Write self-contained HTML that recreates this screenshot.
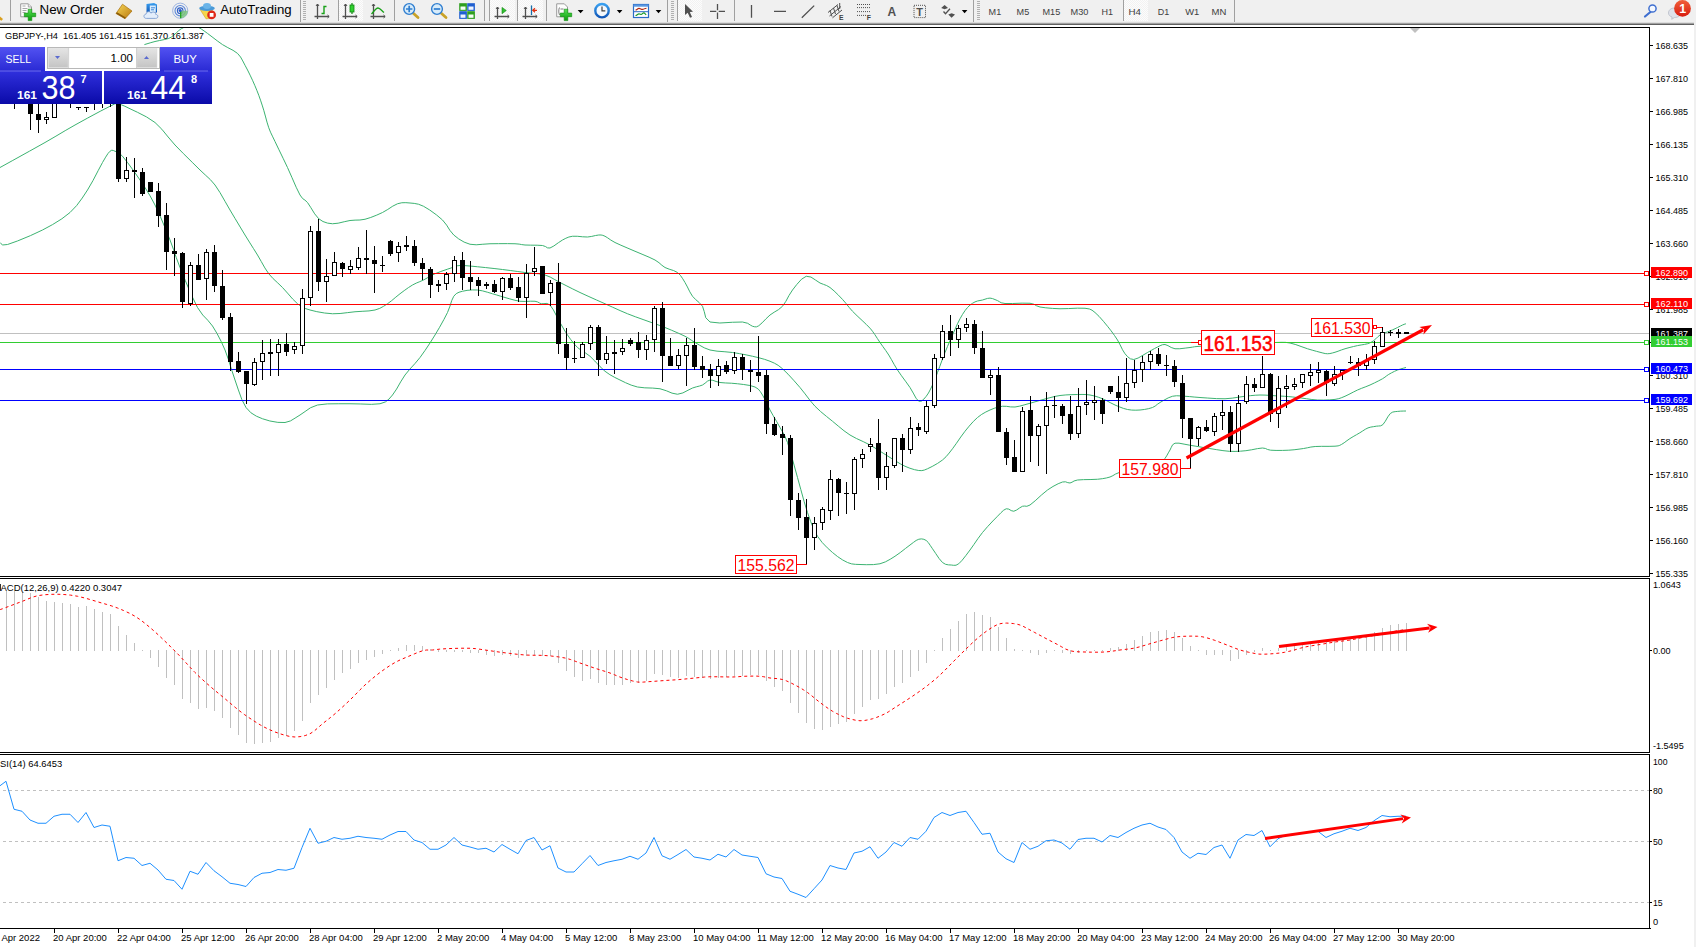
<!DOCTYPE html>
<html><head><meta charset="utf-8"><title>GBPJPY H4</title>
<style>
html,body{margin:0;padding:0;background:#fff;}
body{width:1696px;height:947px;overflow:hidden;position:relative;font-family:"Liberation Sans",sans-serif;}
#tb{position:absolute;left:0;top:0;width:1696px;height:25px;background:#f0f0f0;}
#tb .l0{position:absolute;left:0;top:22px;width:1694px;height:1px;background:#dcdcdc;}
#tb .l1{position:absolute;left:0;top:23px;width:1694px;height:1px;background:#a0a0a0;}
#tb .l2{position:absolute;left:0;top:24px;width:1694px;height:1px;background:#606060;}
#rs{position:absolute;left:1694px;top:0;width:2px;height:947px;background:#f0f0f0;}
</style></head><body>
<div id="tb"><div class="l0"></div><div class="l1"></div><div class="l2"></div>
<svg width="1696" height="25" viewBox="0 0 1696 25" style="position:absolute;left:0;top:0" font-family="Liberation Sans, sans-serif">
<defs>
<linearGradient id="tgold" x1="0" y1="0" x2="1" y2="1"><stop offset="0" stop-color="#f7d858"/><stop offset="1" stop-color="#b9780e"/></linearGradient>
<linearGradient id="tgreen" x1="0" y1="0" x2="0" y2="1"><stop offset="0" stop-color="#55e055"/><stop offset="1" stop-color="#0a9a0a"/></linearGradient>
<linearGradient id="tblue" x1="0" y1="0" x2="0" y2="1"><stop offset="0" stop-color="#3aa0f0"/><stop offset="1" stop-color="#1057b8"/></linearGradient>
<linearGradient id="tred" x1="0" y1="0" x2="0" y2="1"><stop offset="0" stop-color="#f0603a"/><stop offset="1" stop-color="#d81c10"/></linearGradient>
<pattern id="chk" width="2" height="2" patternUnits="userSpaceOnUse"><rect width="2" height="2" fill="#fcfcfc"/><rect width="1" height="1" fill="#f2f2f2"/><rect x="1" y="1" width="1" height="1" fill="#f2f2f2"/></pattern>
</defs>
<!-- pressed backgrounds -->
<g shape-rendering="crispEdges">
<rect x="338" y="0" width="25" height="21" fill="url(#chk)"/><rect x="338" y="0" width="1" height="21" fill="#a0a0a0"/>
<rect x="490" y="0" width="25" height="21" fill="url(#chk)"/><rect x="489" y="0" width="1" height="21" fill="#a0a0a0"/>
<rect x="518" y="0" width="25" height="21" fill="url(#chk)"/><rect x="517" y="0" width="1" height="21" fill="#a0a0a0"/>
<rect x="678" y="0" width="24" height="21" fill="url(#chk)"/><rect x="677" y="0" width="1" height="21" fill="#a0a0a0"/>
<rect x="1124" y="0" width="24" height="21" fill="url(#chk)"/><rect x="1123" y="0" width="1" height="21" fill="#a0a0a0"/>
<!-- separators -->
<rect x="10" y="0" width="1" height="21" fill="#a0a0a0"/>
<rect x="300" y="0" width="1" height="22" fill="#a0a0a0"/>
<rect x="394" y="0" width="1" height="21" fill="#a0a0a0"/>
<rect x="484" y="0" width="1" height="21" fill="#a0a0a0"/>
<rect x="546" y="0" width="1" height="21" fill="#a0a0a0"/>
<rect x="667" y="0" width="1" height="22" fill="#a0a0a0"/>
<rect x="734" y="0" width="1" height="21" fill="#a0a0a0"/>
<rect x="973" y="0" width="1" height="22" fill="#a0a0a0"/>
<rect x="1234" y="0" width="1" height="22" fill="#a0a0a0"/>
<!-- grippers -->
<g fill="#b0b0b0">
<path d="M303 1h3v1h-3zM303 3h3v1h-3zM303 5h3v1h-3zM303 7h3v1h-3zM303 9h3v1h-3zM303 11h3v1h-3zM303 13h3v1h-3zM303 15h3v1h-3zM303 17h3v1h-3zM303 19h3v1h-3z"/>
<path d="M671 1h3v1h-3zM671 3h3v1h-3zM671 5h3v1h-3zM671 7h3v1h-3zM671 9h3v1h-3zM671 11h3v1h-3zM671 13h3v1h-3zM671 15h3v1h-3zM671 17h3v1h-3zM671 19h3v1h-3z"/>
<path d="M977 1h3v1h-3zM977 3h3v1h-3zM977 5h3v1h-3zM977 7h3v1h-3zM977 9h3v1h-3zM977 11h3v1h-3zM977 13h3v1h-3zM977 15h3v1h-3zM977 17h3v1h-3zM977 19h3v1h-3z"/>
</g>
</g>
<!-- left partial icon -->
<polygon points="0,16.500 3,19 1.500,20.800 0,20" fill="#d9a021"/>
<!-- New Order icon -->
<path d="M20.700 3.800h7.600l3.200 3.200v9.800h-10.800z" fill="#fdfdfd" stroke="#9a9a9a" stroke-width="1"/>
<path d="M28.300 3.800v3.200h3.200" fill="#e8e8e8" stroke="#9a9a9a" stroke-width="0.800"/>
<path d="M22.500 6h3M22.500 8.500h5M22.500 10.500h4M22.500 12.500h3" stroke="#a8a8a8" stroke-width="1"/>
<path d="M28.200 9.200h3.600v3.900h3.900v3.600h-3.900v3.900h-3.600v-3.900h-3.900v-3.600h3.900z" fill="url(#tgreen)" stroke="#0c8a0c" stroke-width="0.600"/>
<text x="39.500" y="14" font-size="13.300" fill="#000" textLength="64.500" lengthAdjust="spacingAndGlyphs">New Order</text>
<!-- gold book -->
<polygon points="122.500,4.200 132,11 125,18.700 116,13.500" fill="url(#tgold)" stroke="#a8700c" stroke-width="0.700"/>
<polygon points="116,13.500 125,18.700 125.800,17.600 117,12.300" fill="#8a5a08"/>
<!-- server + cloud -->
<path d="M146.500 4l7.500 -1 3 1.600v8h-10.500z" fill="url(#tblue)"/>
<path d="M149.800 5.500h6v6.500h-6z" fill="#d8ecfc"/>
<path d="M151 7.800h4M151 9.800h3" stroke="#2a7ad8" stroke-width="0.900"/>
<path d="M146.300 18.400c-3 0-3.200-4 -0.200-4.300c0.300-2.800 4-3.300 5-0.900c1.200-2 4.800-1.200 4.600 1.200c2.800 0 3 4 0 4z" fill="#e4eefb" stroke="#7f9fd0" stroke-width="0.900"/>
<!-- signal -->
<circle cx="180.200" cy="10.700" r="7.600" fill="none" stroke="#9db4e0" stroke-width="1"/>
<circle cx="180.200" cy="10.700" r="5.200" fill="none" stroke="#5a86d8" stroke-width="1.100"/>
<circle cx="180.200" cy="10.700" r="2.800" fill="none" stroke="#3060c8" stroke-width="1.100"/>
<path d="M180.200 10.700L187.800 10.700A7.600 7.600 0 0 1 180.200 18.300z" fill="#7cc47c" opacity="0.850"/>
<path d="M180.700 10.700v7.600" stroke="#18a018" stroke-width="1.200"/>
<circle cx="180.200" cy="10.400" r="1.500" fill="#2858c8"/>
<!-- AutoTrading icon -->
<path d="M200 9.300l10.500 0l4 3l-4.500 6.200l-4 0.300z" fill="#f5d64a" stroke="#d0a020" stroke-width="0.600"/>
<ellipse cx="207" cy="8.300" rx="7.800" ry="2.600" fill="#4a9ad8"/>
<ellipse cx="207" cy="6" rx="4" ry="3" fill="#6ab4e8"/>
<circle cx="211.600" cy="14.900" r="4.400" fill="#e02818"/>
<rect x="209.700" y="13" width="3.800" height="3.800" fill="#fff"/>
<text x="220.200" y="14" font-size="13.300" fill="#000" textLength="71.500" lengthAdjust="spacingAndGlyphs">AutoTrading</text>
<!-- chart type icons -->
<g stroke="#505050" stroke-width="1.300" fill="none">
<path d="M317.500 4v15M314.500 16.500h14.500"/><path d="M316 6l1.500-2l1.500 2M327.500 15l1.700 1.500l-1.700 1.500" stroke-width="1"/>
<path d="M345.500 4v15M342.500 16.500h14.500"/><path d="M344 6l1.500-2l1.500 2M355.500 15l1.700 1.500l-1.700 1.500" stroke-width="1"/>
<path d="M373.500 4v15M370.500 16.500h14.500"/><path d="M372 6l1.500-2l1.500 2M383.500 15l1.700 1.500l-1.700 1.500" stroke-width="1"/>
<path d="M497.500 7v12M494.500 16.500h14.500"/><path d="M496 9l1.500-2l1.500 2M507.500 15l1.700 1.500l-1.700 1.500" stroke-width="1"/>
<path d="M525.500 7v12M522.500 16.500h14.500"/><path d="M524 9l1.500-2l1.500 2M535.500 15l1.700 1.500l-1.700 1.500" stroke-width="1"/>
</g>
<path d="M321.500 13.500h2.500v-7h2.500" stroke="#18a018" stroke-width="1.400" fill="none"/>
<path d="M352 3v11" stroke="#108810" stroke-width="1.200"/><rect x="350" y="5" width="4" height="7" fill="#30d030" stroke="#108810" stroke-width="0.800"/>
<path d="M371.500 14c2.500-3 4.500-6 6.500-6s3.500 2.500 6 4.500" stroke="#18a018" stroke-width="1.300" fill="none"/>
<polygon points="502,7.400 506.300,10.500 502,13.700" fill="#30c030" stroke="#108810" stroke-width="0.600"/>
<path d="M531.500 5.400v9.600" stroke="#1a6ea8" stroke-width="1.300"/><path d="M537 10.300h-4M535 8.300l-2.300 2l2.300 2" stroke="#e03010" stroke-width="1.200" fill="none"/>
<!-- zoom in/out -->
<path d="M413 13l5 4.500" stroke="#c9a227" stroke-width="2.800" stroke-linecap="round"/>
<circle cx="409.200" cy="9" r="5.400" fill="#d8ecfa" stroke="#2f7ed0" stroke-width="1.400"/>
<path d="M406 9h6.400M409.200 5.800v6.400" stroke="#2f7ed0" stroke-width="1.700"/>
<path d="M441 13l5 4.500" stroke="#c9a227" stroke-width="2.800" stroke-linecap="round"/>
<circle cx="437" cy="9" r="5.400" fill="#d8ecfa" stroke="#2f7ed0" stroke-width="1.400"/>
<path d="M433.800 9h6.400" stroke="#2f7ed0" stroke-width="1.700"/>
<!-- tile -->
<rect x="459.200" y="3.200" width="7.700" height="7.700" fill="#2e9e1e"/><rect x="467.200" y="3.200" width="7.700" height="7.700" fill="#1f5fd0"/>
<rect x="459.200" y="11.200" width="7.700" height="7.700" fill="#1f5fd0"/><rect x="467.200" y="11.200" width="7.700" height="7.700" fill="#2e9e1e"/>
<rect x="460.500" y="6.500" width="5" height="3.300" fill="#f4fff4"/><rect x="468.500" y="6.500" width="5" height="3.300" fill="#eef4ff"/>
<rect x="460.500" y="14.500" width="5" height="3.300" fill="#eef4ff"/><rect x="468.500" y="14.500" width="5" height="3.300" fill="#f4fff4"/>
<!-- indicators icon -->
<path d="M556.700 3.800h7.600l3.200 3.200v9.800h-10.800z" fill="#fdfdfd" stroke="#9a9a9a" stroke-width="1"/>
<path d="M559.500 7.500c-1 2-1 5 0 7.500M560.500 9h3" stroke="#707070" stroke-width="0.900" fill="none"/>
<path d="M564.200 9.200h3.600v3.900h3.900v3.600h-3.900v3.900h-3.600v-3.900h-3.900v-3.600h3.900z" fill="url(#tgreen)" stroke="#0c8a0c" stroke-width="0.600"/>
<polygon points="577.700,10 583.500,10 580.600,13.200" fill="#000"/>
<!-- clock -->
<circle cx="602" cy="10.700" r="6.700" fill="#f4f8fc" stroke="url(#tblue)" stroke-width="2.400"/>
<path d="M602 6.500v4.400h3.300" stroke="#404040" stroke-width="1.200" fill="none"/>
<polygon points="616.800,10 622.400,10 619.600,13.200" fill="#000"/>
<!-- template -->
<rect x="633.500" y="4.500" width="15" height="13" fill="#fff" stroke="#2a6cc8" stroke-width="1.200"/>
<rect x="633.500" y="4.500" width="15" height="2.200" fill="#5a98e0"/>
<path d="M633.500 11.700h15" stroke="#2a6cc8" stroke-width="1"/>
<path d="M635.500 10c1.500 0 2-1.600 3.500-1.600s2 1 3.500 1s2-1.200 4-1.200" stroke="#b02810" stroke-width="1.100" fill="none"/>
<path d="M635.500 15.500c1.500 0 2-1.600 3.500-1.600s2 1.200 3.200 0s2-1.500 3 0l1 1" stroke="#18982a" stroke-width="1.100" fill="none"/>
<polygon points="655.700,10 661.300,10 658.500,13.200" fill="#000"/>
<!-- cursor -->
<polygon points="685,4 685,15 687.700,12.800 690,17.800 692,16.900 689.800,12 693,11.700" fill="#505050"/>
<!-- crosshair -->
<path d="M710 11.400h6.300M718.700 11.400h6.300M717.500 4v6.200M717.500 12.600v6.400" stroke="#505050" stroke-width="1.300"/>
<!-- line tools -->
<path d="M751.500 5v12.800M774 11.400h12M801.800 17.800L814.200 5.600" stroke="#505050" stroke-width="1.300"/>
<g stroke="#505050" stroke-width="1" fill="none">
<path d="M828 12.500L838 4.500M829.500 16L841 6.500M832.500 17.800L842 10"/><path d="M830 10.500l2 6M833.500 8l2 6M837 5.500l2 6M839.700 3v6"/>
</g>
<text x="839" y="19.800" font-size="6.800" font-weight="bold" fill="#404040">E</text>
<path d="M857 4.500h13.500M857 7.600h13.500M857 11.600h13.500M857 15.400h9.500" stroke="#505050" stroke-width="1" stroke-dasharray="1,1"/>
<text x="866.800" y="19.800" font-size="6.800" font-weight="bold" fill="#404040">F</text>
<text x="887.500" y="15.800" font-size="12" font-weight="bold" fill="#505050">A</text>
<rect x="914" y="5.300" width="11.500" height="12.300" fill="none" stroke="#505050" stroke-width="1" stroke-dasharray="1,1"/>
<text x="916.300" y="15.700" font-size="11" font-weight="bold" fill="#505050">T</text>
<polygon points="944.600,5 948,8 944.600,9.200 941.200,8" fill="#505050"/>
<polygon points="951.600,17.800 955,14.600 951.600,13.300 948.300,14.600" fill="#505050"/>
<path d="M943.500 11.500l2 2.300l4.500-5" stroke="#505050" stroke-width="1.300" fill="none"/>
<polygon points="961.800,10 967.400,10 964.600,13.200" fill="#000"/>
<!-- timeframes -->
<g font-size="9.500" fill="#404040">
<text x="988.600" y="15" textLength="12.600" lengthAdjust="spacingAndGlyphs">M1</text>
<text x="1016.600" y="15" textLength="12.600" lengthAdjust="spacingAndGlyphs">M5</text>
<text x="1042.500" y="15" textLength="17.700" lengthAdjust="spacingAndGlyphs">M15</text>
<text x="1070.500" y="15" textLength="17.900" lengthAdjust="spacingAndGlyphs">M30</text>
<text x="1101.600" y="15" textLength="11.500" lengthAdjust="spacingAndGlyphs">H1</text>
<text x="1128.500" y="15" textLength="12.400" lengthAdjust="spacingAndGlyphs">H4</text>
<text x="1157.700" y="15" textLength="11.500" lengthAdjust="spacingAndGlyphs">D1</text>
<text x="1185.200" y="15" textLength="14.100" lengthAdjust="spacingAndGlyphs">W1</text>
<text x="1211.500" y="15" textLength="14.800" lengthAdjust="spacingAndGlyphs">MN</text>
</g>
<!-- search -->
<path d="M1651 11.500l-6 5" stroke="#3f6fd0" stroke-width="2.200" stroke-linecap="round"/>
<circle cx="1652.500" cy="8.500" r="3.600" fill="#f4f8ff" stroke="#3f6fd0" stroke-width="1.500"/>
<!-- chat -->
<path d="M1668.500 13c0-3 2.500-5 6-5s6 2 6 5s-2.500 4.500-6 4.500l-2.800 1.800l0.400-2.300c-2.200-0.600-3.600-2-3.600-4z" fill="#dfe2ea" stroke="#b8bcc8" stroke-width="0.800"/>
<circle cx="1682.500" cy="8.400" r="8.400" fill="url(#tred)"/>
<text x="1679.300" y="13.200" font-size="12.500" font-weight="bold" fill="#fff">1</text>
</svg>

</div>
<svg id="chart" width="1696" height="947" viewBox="0 0 1696 947" style="position:absolute;left:0;top:0">
<defs><clipPath id="cm"><rect x="0" y="28" width="1649" height="548"/></clipPath><clipPath id="cs"><rect x="0" y="579" width="1649" height="173"/></clipPath><clipPath id="cr"><rect x="0" y="755" width="1649" height="173"/></clipPath><linearGradient id="gb" x1="0" y1="0" x2="0" y2="1"><stop offset="0" stop-color="#5252f2"/><stop offset="1" stop-color="#2a2ad4"/></linearGradient><linearGradient id="gp" x1="0" y1="0" x2="0" y2="1"><stop offset="0" stop-color="#3030dd"/><stop offset="1" stop-color="#0a0aa8"/></linearGradient><linearGradient id="gg" x1="0" y1="0" x2="0" y2="1"><stop offset="0" stop-color="#e4e4e4"/><stop offset="1" stop-color="#c4c4c4"/></linearGradient></defs>
<g shape-rendering="crispEdges">
<rect x="0" y="333" width="1649" height="1" fill="#c0c0c0"/>
</g>
<g clip-path="url(#cm)">
<polyline points="144.4,44.6 147.03,43.8 150.84,42.65 155,41.5 159.63,40.51 164.61,39.53 168.75,38.4 171.44,37.03 173.29,35.51 175,34 176.76,32.47 178.38,30.93 180,29.6 181.59,28.58 183.19,27.76 185,27 187.19,26.12 189.61,25.31 192,25 194.19,25.37 196.36,26.25 198.75,27.5 201.29,29.02 204.05,30.91 207.5,33.4 212.04,36.83 217.27,40.85 222.5,44.6 227.78,47.6 233.06,50.33 237.5,53.4 240.56,57.01 242.78,60.95 245,65.25 247.55,70.02 250.09,75.13 252.5,80.25 254.72,85.25 256.81,90.25 258.75,95.25 260.51,100.16 262.13,105.06 263.75,110.25 265.37,116.04 266.99,122.1 268.75,127.75 270.51,132.16 272.41,136.15 275,141.5 278.7,149.2 283.1,158.27 287.5,167.5 291.85,177.3 296.2,187.26 300,195 302.73,198.66 304.91,200.09 307.5,202.5 310.88,207.69 314.68,213.84 318.75,218.75 323.01,221.56 327.55,223.11 332.5,223.75 338.15,223.2 344.21,221.74 350,220.5 355.09,220.14 359.91,220 365,219.25 370.74,217.48 376.76,215.1 382.5,212.5 387.78,209.44 392.78,206.15 397.5,203.75 401.81,202.76 405.85,202.66 410,203 414.22,203.4 418.56,204.24 423.5,206.25 429.71,210.01 436.54,214.94 442.5,220 446.64,225.12 449.92,230.38 453.75,235 458.66,238.87 464.12,242.1 470,244.25 476.2,244.79 482.82,244.24 490,243.75 498.52,243.67 507.59,243.64 515,243.75 519.17,244.1 521.67,244.59 525,245 530.65,245.15 537.13,245.21 542.5,245.5 545.56,246.57 547.5,247.87 550,248 553.89,245.95 558.33,242.74 562.5,240 565.83,238.27 568.89,237.01 572.5,236.25 577.27,236.27 582.59,236.79 587.5,237 591.71,236.42 595.51,235.53 598.75,235 601.06,234.99 602.82,235.34 605,236.25 607.69,237.87 610.79,240.05 615,242.5 620.93,245.23 627.96,248.24 635,251.25 642.04,254.21 649.07,257.18 655,260 658.98,262.69 661.85,265.23 665,267.5 669.17,269.17 673.61,270.56 677.5,272.5 680.37,275.32 682.69,278.7 685,282.5 687.41,286.94 689.81,291.81 692.5,296.25 695.74,299.65 699.26,302.63 702.5,306.25 704.26,311.66 705.74,317.7 710,322 719.81,323.01 732.41,322.27 742.5,322 747.64,323.28 750.28,325.03 752.5,326.25 754.68,326.81 756.44,326.85 758.75,325.75 762.08,322.85 765.97,318.81 770,315 774.17,312.21 778.47,309.65 782.5,306.25 785.88,301.3 788.98,295.51 792.5,290 796.81,284.47 801.53,279.22 806.25,276.25 810.97,277.06 815.69,280.16 820,283 823.52,284.39 826.62,285.54 830,287.5 834.07,290.92 838.43,295.16 842.5,299.4 845.88,303.31 848.98,307.21 852.5,311.25 857.08,315.77 862.08,320.44 866.25,324.4 868.84,326.99 870.6,328.87 872.5,331.25 874.86,334.63 877.36,338.49 880,342.5 882.82,346.48 885.79,350.6 888.75,355 891.53,359.72 894.31,364.72 897.5,370 901.53,375.79 905.97,381.85 910,387.5 913.24,393.06 916.06,398.19 918.75,401.25 921.39,401.2 923.89,399.07 926.25,396.25 928.47,393.01 930.56,389.07 932.5,385 934.17,381.2 935.69,377.27 937.5,372.5 939.81,366.3 942.41,359.26 945,352.5 947.5,346.44 950,340.65 952.5,335 955,329.31 957.5,323.75 960,318.75 962.5,314.42 965,310.65 967.5,307.5 970,305.08 972.5,303.28 975,301.9 977.5,300.99 980,300.5 982.5,300 985,299.2 987.5,298.41 990,298.1 992.5,298.59 995,299.57 997.5,300.6 999.35,301.65 1001.2,302.75 1005,303.5 1012.59,303.5 1022.13,303.15 1030,303.25 1034.07,304.28 1036.48,305.75 1040,307 1045.74,307.81 1052.59,308.41 1060,308.75 1068.52,308.57 1077.59,308.15 1085,308.25 1089.35,308.96 1092.04,310.2 1095,312.5 1099.07,316.38 1103.43,321.31 1107.5,326.25 1111.11,330.83 1114.44,335.42 1117.5,340 1120.14,344.88 1122.5,349.76 1125,353.75 1127.64,356.73 1130.42,358.82 1133.75,359.5 1138.1,358.06 1143.01,355.19 1147.5,352.5 1151.2,350.44 1154.49,348.56 1157.5,347 1160.09,345.69 1162.41,344.72 1165,344.5 1167.96,345.62 1171.2,347.49 1175,348.75 1179.81,348.74 1185.19,348.12 1190,347.5 1192.59,347.12 1194.63,346.74 1200,346.25 1211.3,345.55 1225.93,344.73 1240,344 1252.78,343.37 1265,342.82 1275,342.5 1281.39,342.32 1285.56,342.37 1290,343 1295.83,344.61 1301.94,346.81 1307.5,348.75 1312.22,350.16 1316.39,351.31 1320,352.25 1322.87,353.01 1325.19,353.55 1327.5,353.75 1329.91,353.55 1332.31,353.01 1335,352.25 1338.06,351.22 1341.39,349.96 1345,348.75 1349.07,347.63 1353.43,346.54 1357.5,345.6 1361.16,344.94 1364.54,344.41 1367.5,343.75 1369.86,342.89 1371.81,341.88 1373.75,340.6 1375.79,338.82 1377.82,336.77 1380,335 1382.41,333.78 1384.95,332.84 1387.5,331.9 1390,330.88 1392.5,329.85 1395,328.75 1397.65,327.45 1400.3,326.09 1402.5,325 1404.09,324.35 1405.24,323.98 1406,323.75" fill="none" stroke="#3cb371" stroke-width="1" />
<polyline points="0,167.5 12.22,160.74 29.44,151.2 45,142.5 55.93,136.16 65.19,130.65 75,125 87.3,118.23 100.15,111.32 110,106.25 114.52,104.02 116.04,103.62 118,104 121.22,104.73 124.89,106.24 130,108.75 137.56,112.34 146.56,116.94 155,122.5 161.85,129.26 168.15,136.99 175,145 183.33,153.52 192.22,162.31 200,170 205.74,175.37 210.37,179.63 215,185 220,192.59 225,201.3 230,210 235.09,218.52 240.19,227.04 245,235 249.4,242.08 253.52,248.61 257.5,255 261.25,261.53 264.86,267.92 268.75,273.75 273.1,278.61 277.73,282.92 282.5,287.5 287.5,293.1 292.64,298.98 297.5,303.75 301.48,306.67 305.19,308.47 310,310 316.76,311.65 324.63,313.02 332.5,313.75 340.09,313.5 347.69,312.61 355,311.75 362.13,311.31 368.98,310.91 375,310 379.72,308.39 383.61,306.28 387.5,303.75 391.67,300.65 395.83,297.13 400,293.75 404.22,290.6 408.44,287.59 412.5,285 416.26,283.1 419.85,281.62 423.5,280 427.07,278.01 430.7,275.88 435,273.75 440.76,271.51 447.19,269.27 452.5,267.5 455.37,266.4 457.13,265.77 460,265.5 464.81,265.62 470.74,266.1 477.5,266.75 485.37,267.55 494.07,268.51 502.5,269.5 510.28,270.5 517.78,271.53 525,272.5 532.04,273.19 538.8,273.81 545,275 550.19,277.04 554.81,279.63 560,282.5 566.11,285.6 572.78,288.98 580,292.5 588.06,296.2 596.67,300.05 605,303.75 612.69,307.24 620.09,310.59 627.5,313.75 635.28,316.73 643.06,319.52 650,322 655.37,323.92 659.91,325.53 665,327.5 671.67,330.27 678.89,333.4 685,336.25 688.89,338.47 691.67,340.42 695,342.5 699.35,345.09 704.26,347.82 710,350 717.04,351.16 724.91,351.76 732.5,352.5 739.44,353.61 746.11,354.86 752.5,356.25 758.7,357.73 764.63,359.35 770,361.25 774.35,363.15 778.15,365.32 782.5,368.75 788.06,374.17 794.17,380.83 800,387.5 805.09,393.89 809.91,400.28 815,406.25 820.65,411.57 826.57,416.48 832.5,421.25 838.24,426.06 843.98,430.74 850,435 856.48,438.52 863.24,441.62 870,445 876.85,449.12 883.7,453.52 890,457.5 895.42,460.86 900.28,463.81 905,466.25 909.86,468.22 914.58,469.69 918.75,470.5 921.81,470.62 924.31,470.07 927.5,468.75 932.22,466.44 937.64,463.36 942.5,460 946.11,456.67 949.17,453.06 952.5,448.75 956.48,443.24 960.74,437.04 965,431.25 969.17,426.16 973.33,421.48 977.5,417.5 981.67,414.4 985.83,411.99 990,410 994.17,408.31 998.33,407.03 1002.5,406.25 1006.57,406.33 1010.65,406.92 1015,407 1019.81,406.1 1024.91,404.7 1030,403.25 1035,401.84 1040,400.38 1045,399 1049.91,397.69 1054.81,396.45 1060,395.5 1065.83,394.93 1071.94,394.63 1077.5,394.5 1082.04,394.44 1086.02,394.54 1090,395 1094.17,395.92 1098.33,397.19 1102.5,398.75 1106.67,400.71 1110.83,402.95 1115,405 1119.17,406.78 1123.33,408.36 1127.5,409.5 1131.67,410.07 1135.83,410.2 1140,410 1144.35,409.48 1148.7,408.63 1152.5,407.5 1155.19,406.06 1157.31,404.35 1160,402.5 1163.8,400.28 1168.15,397.92 1172.5,396.25 1176.57,395.74 1180.65,395.93 1185,396.25 1189.44,396.57 1194.17,397.04 1200,397.5 1207.78,398.06 1216.67,398.61 1225,398.75 1232.22,398.15 1238.89,397.13 1245,396.25 1250.37,395.67 1255.19,395.22 1260,395 1265.05,395.1 1270.09,395.42 1275,395.75 1279.72,396.01 1284.31,396.27 1288.75,396.6 1292.87,397 1296.85,397.47 1301.25,398 1306.34,398.72 1311.85,399.5 1317.5,400 1323.52,400.09 1329.68,399.89 1335,399.4 1338.8,398.65 1341.76,397.62 1345,396.25 1348.98,394.35 1353.24,392.11 1357.5,390 1361.67,388.29 1365.83,386.71 1370,385 1374.4,382.94 1378.8,380.74 1382.5,378.75 1384.95,377.16 1386.71,375.78 1388.75,374.4 1391.49,372.87 1394.51,371.33 1397.5,370 1400.67,368.93 1403.81,368.08 1406,367.5" fill="none" stroke="#3cb371" stroke-width="1" />
<polyline points="0,242.5 0.93,243.63 2.69,244.98 7.5,244.5 17.41,241 30.37,235.67 42.5,230 52.59,224.57 61.85,218.81 70,212.5 76.67,205.56 82.22,198.06 87.5,190 92.96,180.6 98.15,170.65 102.5,162.5 105.65,157.13 107.96,153.56 110,151.25 111.76,150.23 113.24,150.46 115,151.25 116.94,151.85 119.17,153.01 122.5,156.25 127.69,162.73 133.98,171.3 140,180 145.19,187.87 150.09,195.88 155,205 160.19,216.2 165.37,228.52 170,240 173.43,249.26 176.3,257.69 180,267.5 185.37,280.7 191.57,295.3 197.5,307.5 202.78,315.06 207.78,320.22 212.5,326 216.94,333.37 221.11,341.35 225,350 228.48,359.65 231.69,369.96 235,380 238.39,389.95 241.89,399.63 246,407.5 250.87,412.73 256.35,416.16 262.5,418.75 269.83,420.97 277.83,422.36 285,422.5 290.46,420.93 295.09,418.1 300,415 305.09,411.53 310.46,407.78 317.5,405 327.31,403.89 338.8,403.75 350,403.75 360.83,403.98 371.39,404.35 380,403.75 385.46,401.9 388.98,399.07 392.5,395 396.57,389.07 400.65,381.9 405,375 409.81,369.17 414.91,363.61 420,357.5 425.09,350.37 430.19,342.69 435,335 439.58,327.27 443.89,319.54 447.5,312.5 449.95,306.2 451.71,300.6 453.75,296.25 456.25,293.61 459.03,292.22 462.5,291.25 467.04,290.37 472.27,289.91 477.5,290 482.59,290.88 487.69,292.31 492.5,293.75 496.76,295 500.74,296.25 505,297.5 509.81,298.89 514.91,300.28 520,301.25 525.32,301.44 530.65,301.2 535,301.25 537.64,301.94 539.31,302.92 541.25,303.75 543.94,303.66 546.9,303.43 550,305 553.33,309.81 556.81,316.44 560,322.5 562.59,327.04 564.91,331.02 567.5,335 570.56,339.31 573.89,343.61 577.5,347.5 581.39,350.46 585.56,353.01 590,356.25 594.81,361.02 599.91,366.48 605,371.25 609.91,374.69 614.81,377.44 620,380 625.46,382.66 631.2,385.12 637.5,387 644.81,387.83 652.69,388.08 660,388.75 666.3,390.74 672.04,393.15 677.5,394.25 682.87,392.92 687.96,390.28 692.5,388 696.3,386.83 699.54,386.03 702.5,385 705.09,383.2 707.41,381.19 710,380 712.87,380.32 716.02,381.48 720,382.5 725.28,382.94 731.39,383.23 737.5,383.75 743.7,384.51 749.91,385.49 755,387 758.24,389.06 760.37,391.64 762.5,395 764.91,399.39 767.31,404.56 770,410 773.24,415.74 776.76,421.76 780,427.5 782.59,431.94 784.91,436.11 787.5,442.5 790.65,452.69 794.07,465.09 797.5,477.5 800.83,489.58 804.17,501.67 807.5,512.5 810.65,521.53 813.8,529.31 817.5,536.25 822.13,542.45 827.31,547.82 832.5,552.5 837.59,556.59 842.69,559.99 847.5,562.5 851.57,563.86 855.37,564.33 860,564.5 866.3,564.7 873.43,564.6 880,563.75 885.37,561.89 890.19,559.28 895,556.25 900.23,552.57 905.46,548.48 910,545 913.43,542.42 916.16,540.44 918.75,539.25 921.39,538.89 923.89,539.31 926.25,540.5 928.29,542.53 930.19,545.33 932.5,548.75 935.6,553.34 939.12,558.55 942.5,562.5 945.56,564.31 948.47,564.86 951.25,565 953.7,565.32 956.02,565.23 958.75,563.75 962.18,560.23 966.02,555.32 970,550 973.98,544.4 978.1,538.38 982.5,532.5 987.55,526.67 992.87,520.97 997.5,516.25 1000.93,512.73 1003.66,510.19 1006.25,508.75 1008.8,509.12 1011.2,510.6 1013.75,511.25 1016.62,510 1019.63,507.92 1022.5,506.25 1024.72,506.06 1026.81,506.3 1030,505 1035.19,500.76 1041.48,494.99 1047.5,490 1052.96,486.48 1058.15,483.74 1062.5,482 1065.56,481.81 1067.78,482.63 1070,483 1072.04,482.21 1074.07,480.98 1077.5,480 1083.52,479.64 1090.93,479.53 1097.5,479.25 1102.34,478.69 1106.35,477.97 1110,477 1112.9,475.67 1115.44,474.08 1119.25,472.5 1125.34,471.06 1132.71,469.61 1140,468 1147.28,466.02 1154.47,463.88 1160,462 1162.78,460.8 1163.89,459.87 1165,458.4 1166.67,455.9 1168.33,452.86 1170,450 1171.31,447.29 1172.61,444.76 1175,443.2 1178.99,443.17 1184.06,444.11 1189.7,445.2 1195.92,446.22 1202.71,447.39 1209.5,448.5 1216.22,449.6 1222.94,450.64 1229.3,451.3 1235.07,451.43 1240.49,451.18 1245.9,450.7 1251.71,449.77 1257.52,448.61 1262.4,448 1265.38,448.45 1267.43,449.45 1270.6,450.2 1276.05,450.43 1282.61,450.41 1288.8,450.2 1294.1,449.77 1299.03,449.15 1303.6,448.5 1307.4,447.79 1310.84,447.05 1315.2,446.5 1321.68,446.33 1329.07,446.35 1335,446.2 1338.11,445.86 1339.76,445.35 1341.6,444.4 1344.18,442.76 1346.95,440.68 1349.9,438.6 1353.14,436.63 1356.57,434.67 1359.8,432.8 1362.66,430.98 1365.32,429.26 1368,427.9 1370.82,427.09 1373.66,426.64 1376.3,426.2 1378.6,426.01 1380.7,425.83 1382.9,424.6 1385.31,421.27 1387.8,416.89 1390.3,413.5 1392.73,412.07 1395.17,411.64 1397.7,411.4 1400.71,411.13 1403.81,411.04 1406,411" fill="none" stroke="#3cb371" stroke-width="1" />
</g>
<g shape-rendering="crispEdges">
<rect x="0" y="273" width="1649" height="1" fill="#ff0000"/>
<rect x="0" y="304" width="1649" height="1" fill="#ff0000"/>
<rect x="0" y="342" width="1649" height="1" fill="#32cd32"/>
<rect x="0" y="369" width="1649" height="1" fill="#0000ff"/>
<rect x="0" y="400" width="1649" height="1" fill="#0000ff"/>
<rect x="14" y="100" width="1" height="9" fill="#000"/>
<rect x="12" y="100" width="5" height="4" fill="#000"/>
<rect x="30" y="100" width="1" height="30" fill="#000"/>
<rect x="28" y="100" width="5" height="14" fill="#000"/>
<rect x="38" y="100" width="1" height="33" fill="#000"/>
<rect x="36" y="114" width="5" height="6" fill="#000"/>
<rect x="46" y="112" width="1" height="12" fill="#000"/>
<rect x="44" y="117" width="5" height="3" fill="#000"/>
<rect x="45" y="118" width="3" height="1" fill="#fff"/>
<rect x="54" y="100" width="1" height="18" fill="#000"/>
<rect x="52" y="100" width="5" height="18" fill="#000"/>
<rect x="53" y="101" width="3" height="16" fill="#fff"/>
<rect x="70" y="100" width="1" height="8" fill="#000"/>
<rect x="68" y="100" width="5" height="4" fill="#000"/>
<rect x="78" y="107" width="1" height="3" fill="#000"/>
<rect x="76" y="107" width="5" height="1" fill="#000"/>
<rect x="86" y="107" width="1" height="5" fill="#000"/>
<rect x="84" y="107" width="5" height="1" fill="#000"/>
<rect x="94" y="100" width="1" height="10" fill="#000"/>
<rect x="92" y="100" width="5" height="4" fill="#000"/>
<rect x="102" y="100" width="1" height="8" fill="#000"/>
<rect x="100" y="100" width="5" height="4" fill="#000"/>
<rect x="110" y="100" width="1" height="7" fill="#000"/>
<rect x="108" y="100" width="5" height="4" fill="#000"/>
<rect x="118" y="100" width="1" height="82" fill="#000"/>
<rect x="116" y="100" width="5" height="79" fill="#000"/>
<rect x="126" y="157" width="1" height="25" fill="#000"/>
<rect x="124" y="170" width="5" height="9" fill="#000"/>
<rect x="125" y="171" width="3" height="7" fill="#fff"/>
<rect x="134" y="158" width="1" height="40" fill="#000"/>
<rect x="132" y="170" width="5" height="2" fill="#000"/>
<rect x="142" y="168" width="1" height="28" fill="#000"/>
<rect x="140" y="172" width="5" height="22" fill="#000"/>
<rect x="150" y="182" width="1" height="10" fill="#000"/>
<rect x="148" y="182" width="5" height="10" fill="#000"/>
<rect x="158" y="183" width="1" height="44" fill="#000"/>
<rect x="156" y="191" width="5" height="25" fill="#000"/>
<rect x="166" y="203" width="1" height="67" fill="#000"/>
<rect x="164" y="215" width="5" height="37" fill="#000"/>
<rect x="174" y="238" width="1" height="38" fill="#000"/>
<rect x="172" y="251" width="5" height="3" fill="#000"/>
<rect x="182" y="252" width="1" height="56" fill="#000"/>
<rect x="180" y="253" width="5" height="49" fill="#000"/>
<rect x="190" y="262" width="1" height="44" fill="#000"/>
<rect x="188" y="265" width="5" height="39" fill="#000"/>
<rect x="189" y="266" width="3" height="37" fill="#fff"/>
<rect x="198" y="254" width="1" height="26" fill="#000"/>
<rect x="196" y="265" width="5" height="15" fill="#000"/>
<rect x="206" y="249" width="1" height="51" fill="#000"/>
<rect x="204" y="252" width="5" height="27" fill="#000"/>
<rect x="205" y="253" width="3" height="25" fill="#fff"/>
<rect x="214" y="245" width="1" height="47" fill="#000"/>
<rect x="212" y="252" width="5" height="34" fill="#000"/>
<rect x="222" y="270" width="1" height="50" fill="#000"/>
<rect x="220" y="286" width="5" height="32" fill="#000"/>
<rect x="230" y="313" width="1" height="58" fill="#000"/>
<rect x="228" y="317" width="5" height="45" fill="#000"/>
<rect x="238" y="352" width="1" height="21" fill="#000"/>
<rect x="236" y="361" width="5" height="11" fill="#000"/>
<rect x="246" y="371" width="1" height="33" fill="#000"/>
<rect x="244" y="371" width="5" height="13" fill="#000"/>
<rect x="254" y="358" width="1" height="28" fill="#000"/>
<rect x="252" y="362" width="5" height="23" fill="#000"/>
<rect x="253" y="363" width="3" height="21" fill="#fff"/>
<rect x="262" y="340" width="1" height="40" fill="#000"/>
<rect x="260" y="353" width="5" height="9" fill="#000"/>
<rect x="261" y="354" width="3" height="7" fill="#fff"/>
<rect x="270" y="339" width="1" height="37" fill="#000"/>
<rect x="268" y="352" width="5" height="2" fill="#000"/>
<rect x="278" y="339" width="1" height="37" fill="#000"/>
<rect x="276" y="344" width="5" height="9" fill="#000"/>
<rect x="277" y="345" width="3" height="7" fill="#fff"/>
<rect x="286" y="333" width="1" height="23" fill="#000"/>
<rect x="284" y="344" width="5" height="8" fill="#000"/>
<rect x="294" y="342" width="1" height="12" fill="#000"/>
<rect x="292" y="346" width="5" height="4" fill="#000"/>
<rect x="293" y="347" width="3" height="2" fill="#fff"/>
<rect x="302" y="289" width="1" height="65" fill="#000"/>
<rect x="300" y="298" width="5" height="48" fill="#000"/>
<rect x="301" y="299" width="3" height="46" fill="#fff"/>
<rect x="310" y="226" width="1" height="80" fill="#000"/>
<rect x="308" y="231" width="5" height="67" fill="#000"/>
<rect x="309" y="232" width="3" height="65" fill="#fff"/>
<rect x="318" y="219" width="1" height="72" fill="#000"/>
<rect x="316" y="231" width="5" height="51" fill="#000"/>
<rect x="326" y="259" width="1" height="43" fill="#000"/>
<rect x="324" y="276" width="5" height="6" fill="#000"/>
<rect x="325" y="277" width="3" height="4" fill="#fff"/>
<rect x="334" y="252" width="1" height="24" fill="#000"/>
<rect x="332" y="262" width="5" height="14" fill="#000"/>
<rect x="333" y="263" width="3" height="12" fill="#fff"/>
<rect x="342" y="262" width="1" height="15" fill="#000"/>
<rect x="340" y="263" width="5" height="6" fill="#000"/>
<rect x="350" y="260" width="1" height="14" fill="#000"/>
<rect x="348" y="266" width="5" height="4" fill="#000"/>
<rect x="349" y="267" width="3" height="2" fill="#fff"/>
<rect x="358" y="247" width="1" height="23" fill="#000"/>
<rect x="356" y="258" width="5" height="10" fill="#000"/>
<rect x="357" y="259" width="3" height="8" fill="#fff"/>
<rect x="366" y="230" width="1" height="44" fill="#000"/>
<rect x="364" y="258" width="5" height="2" fill="#000"/>
<rect x="374" y="246" width="1" height="47" fill="#000"/>
<rect x="372" y="260" width="5" height="4" fill="#000"/>
<rect x="382" y="256" width="1" height="16" fill="#000"/>
<rect x="380" y="265" width="5" height="1" fill="#000"/>
<rect x="390" y="240" width="1" height="16" fill="#000"/>
<rect x="388" y="241" width="5" height="13" fill="#000"/>
<rect x="398" y="242" width="1" height="20" fill="#000"/>
<rect x="396" y="246" width="5" height="7" fill="#000"/>
<rect x="397" y="247" width="3" height="5" fill="#fff"/>
<rect x="406" y="236" width="1" height="15" fill="#000"/>
<rect x="404" y="245" width="5" height="2" fill="#000"/>
<rect x="414" y="240" width="1" height="26" fill="#000"/>
<rect x="412" y="246" width="5" height="17" fill="#000"/>
<rect x="422" y="258" width="1" height="22" fill="#000"/>
<rect x="420" y="263" width="5" height="6" fill="#000"/>
<rect x="430" y="267" width="1" height="31" fill="#000"/>
<rect x="428" y="269" width="5" height="16" fill="#000"/>
<rect x="438" y="280" width="1" height="12" fill="#000"/>
<rect x="436" y="284" width="5" height="2" fill="#000"/>
<rect x="446" y="272" width="1" height="18" fill="#000"/>
<rect x="444" y="274" width="5" height="10" fill="#000"/>
<rect x="445" y="275" width="3" height="8" fill="#fff"/>
<rect x="454" y="256" width="1" height="26" fill="#000"/>
<rect x="452" y="260" width="5" height="14" fill="#000"/>
<rect x="453" y="261" width="3" height="12" fill="#fff"/>
<rect x="462" y="252" width="1" height="38" fill="#000"/>
<rect x="460" y="260" width="5" height="18" fill="#000"/>
<rect x="470" y="261" width="1" height="29" fill="#000"/>
<rect x="468" y="277" width="5" height="5" fill="#000"/>
<rect x="478" y="277" width="1" height="19" fill="#000"/>
<rect x="476" y="280" width="5" height="6" fill="#000"/>
<rect x="486" y="282" width="1" height="7" fill="#000"/>
<rect x="484" y="284" width="5" height="2" fill="#000"/>
<rect x="494" y="280" width="1" height="13" fill="#000"/>
<rect x="492" y="284" width="5" height="8" fill="#000"/>
<rect x="502" y="277" width="1" height="23" fill="#000"/>
<rect x="500" y="278" width="5" height="14" fill="#000"/>
<rect x="501" y="279" width="3" height="12" fill="#fff"/>
<rect x="510" y="274" width="1" height="16" fill="#000"/>
<rect x="508" y="278" width="5" height="10" fill="#000"/>
<rect x="518" y="277" width="1" height="25" fill="#000"/>
<rect x="516" y="287" width="5" height="11" fill="#000"/>
<rect x="526" y="264" width="1" height="54" fill="#000"/>
<rect x="524" y="273" width="5" height="25" fill="#000"/>
<rect x="525" y="274" width="3" height="23" fill="#fff"/>
<rect x="534" y="247" width="1" height="29" fill="#000"/>
<rect x="532" y="268" width="5" height="4" fill="#000"/>
<rect x="533" y="269" width="3" height="2" fill="#fff"/>
<rect x="542" y="266" width="1" height="28" fill="#000"/>
<rect x="540" y="266" width="5" height="28" fill="#000"/>
<rect x="550" y="280" width="1" height="26" fill="#000"/>
<rect x="548" y="283" width="5" height="10" fill="#000"/>
<rect x="549" y="284" width="3" height="8" fill="#fff"/>
<rect x="558" y="263" width="1" height="91" fill="#000"/>
<rect x="556" y="282" width="5" height="62" fill="#000"/>
<rect x="566" y="328" width="1" height="42" fill="#000"/>
<rect x="564" y="344" width="5" height="14" fill="#000"/>
<rect x="574" y="341" width="1" height="22" fill="#000"/>
<rect x="572" y="358" width="5" height="1" fill="#000"/>
<rect x="582" y="342" width="1" height="16" fill="#000"/>
<rect x="580" y="344" width="5" height="14" fill="#000"/>
<rect x="581" y="345" width="3" height="12" fill="#fff"/>
<rect x="590" y="325" width="1" height="25" fill="#000"/>
<rect x="588" y="327" width="5" height="17" fill="#000"/>
<rect x="589" y="328" width="3" height="15" fill="#fff"/>
<rect x="598" y="325" width="1" height="51" fill="#000"/>
<rect x="596" y="327" width="5" height="33" fill="#000"/>
<rect x="606" y="336" width="1" height="28" fill="#000"/>
<rect x="604" y="353" width="5" height="7" fill="#000"/>
<rect x="605" y="354" width="3" height="5" fill="#fff"/>
<rect x="614" y="340" width="1" height="34" fill="#000"/>
<rect x="612" y="352" width="5" height="2" fill="#000"/>
<rect x="622" y="339" width="1" height="16" fill="#000"/>
<rect x="620" y="348" width="5" height="4" fill="#000"/>
<rect x="621" y="349" width="3" height="2" fill="#fff"/>
<rect x="630" y="338" width="1" height="8" fill="#000"/>
<rect x="628" y="340" width="5" height="4" fill="#000"/>
<rect x="638" y="332" width="1" height="26" fill="#000"/>
<rect x="636" y="342" width="5" height="8" fill="#000"/>
<rect x="646" y="335" width="1" height="25" fill="#000"/>
<rect x="644" y="340" width="5" height="10" fill="#000"/>
<rect x="645" y="341" width="3" height="8" fill="#fff"/>
<rect x="654" y="306" width="1" height="46" fill="#000"/>
<rect x="652" y="308" width="5" height="32" fill="#000"/>
<rect x="653" y="309" width="3" height="30" fill="#fff"/>
<rect x="662" y="302" width="1" height="80" fill="#000"/>
<rect x="660" y="308" width="5" height="48" fill="#000"/>
<rect x="670" y="338" width="1" height="28" fill="#000"/>
<rect x="668" y="356" width="5" height="10" fill="#000"/>
<rect x="678" y="349" width="1" height="20" fill="#000"/>
<rect x="676" y="355" width="5" height="11" fill="#000"/>
<rect x="677" y="356" width="3" height="9" fill="#fff"/>
<rect x="686" y="338" width="1" height="48" fill="#000"/>
<rect x="684" y="345" width="5" height="11" fill="#000"/>
<rect x="685" y="346" width="3" height="9" fill="#fff"/>
<rect x="694" y="328" width="1" height="42" fill="#000"/>
<rect x="692" y="345" width="5" height="22" fill="#000"/>
<rect x="702" y="356" width="1" height="22" fill="#000"/>
<rect x="700" y="366" width="5" height="4" fill="#000"/>
<rect x="710" y="364" width="1" height="24" fill="#000"/>
<rect x="708" y="369" width="5" height="7" fill="#000"/>
<rect x="718" y="359" width="1" height="27" fill="#000"/>
<rect x="716" y="366" width="5" height="10" fill="#000"/>
<rect x="717" y="367" width="3" height="8" fill="#fff"/>
<rect x="726" y="361" width="1" height="13" fill="#000"/>
<rect x="724" y="365" width="5" height="7" fill="#000"/>
<rect x="734" y="352" width="1" height="22" fill="#000"/>
<rect x="732" y="357" width="5" height="14" fill="#000"/>
<rect x="733" y="358" width="3" height="12" fill="#fff"/>
<rect x="742" y="354" width="1" height="26" fill="#000"/>
<rect x="740" y="357" width="5" height="13" fill="#000"/>
<rect x="750" y="360" width="1" height="32" fill="#000"/>
<rect x="748" y="370" width="5" height="2" fill="#000"/>
<rect x="758" y="336" width="1" height="46" fill="#000"/>
<rect x="756" y="372" width="5" height="4" fill="#000"/>
<rect x="766" y="370" width="1" height="64" fill="#000"/>
<rect x="764" y="375" width="5" height="49" fill="#000"/>
<rect x="774" y="417" width="1" height="19" fill="#000"/>
<rect x="772" y="424" width="5" height="11" fill="#000"/>
<rect x="782" y="426" width="1" height="29" fill="#000"/>
<rect x="780" y="434" width="5" height="4" fill="#000"/>
<rect x="790" y="435" width="1" height="81" fill="#000"/>
<rect x="788" y="438" width="5" height="62" fill="#000"/>
<rect x="798" y="493" width="1" height="37" fill="#000"/>
<rect x="796" y="500" width="5" height="18" fill="#000"/>
<rect x="806" y="499" width="1" height="65" fill="#000"/>
<rect x="804" y="517" width="5" height="21" fill="#000"/>
<rect x="814" y="517" width="1" height="33" fill="#000"/>
<rect x="812" y="523" width="5" height="15" fill="#000"/>
<rect x="813" y="524" width="3" height="13" fill="#fff"/>
<rect x="822" y="507" width="1" height="23" fill="#000"/>
<rect x="820" y="509" width="5" height="14" fill="#000"/>
<rect x="821" y="510" width="3" height="12" fill="#fff"/>
<rect x="830" y="470" width="1" height="50" fill="#000"/>
<rect x="828" y="479" width="5" height="32" fill="#000"/>
<rect x="829" y="480" width="3" height="30" fill="#fff"/>
<rect x="838" y="478" width="1" height="38" fill="#000"/>
<rect x="836" y="479" width="5" height="14" fill="#000"/>
<rect x="846" y="482" width="1" height="32" fill="#000"/>
<rect x="844" y="493" width="5" height="1" fill="#000"/>
<rect x="854" y="457" width="1" height="53" fill="#000"/>
<rect x="852" y="459" width="5" height="35" fill="#000"/>
<rect x="853" y="460" width="3" height="33" fill="#fff"/>
<rect x="862" y="449" width="1" height="19" fill="#000"/>
<rect x="860" y="454" width="5" height="5" fill="#000"/>
<rect x="861" y="455" width="3" height="3" fill="#fff"/>
<rect x="870" y="438" width="1" height="14" fill="#000"/>
<rect x="868" y="444" width="5" height="3" fill="#000"/>
<rect x="869" y="445" width="3" height="1" fill="#fff"/>
<rect x="878" y="419" width="1" height="71" fill="#000"/>
<rect x="876" y="443" width="5" height="35" fill="#000"/>
<rect x="886" y="452" width="1" height="38" fill="#000"/>
<rect x="884" y="466" width="5" height="12" fill="#000"/>
<rect x="885" y="467" width="3" height="10" fill="#fff"/>
<rect x="894" y="438" width="1" height="30" fill="#000"/>
<rect x="892" y="438" width="5" height="28" fill="#000"/>
<rect x="893" y="439" width="3" height="26" fill="#fff"/>
<rect x="902" y="434" width="1" height="38" fill="#000"/>
<rect x="900" y="438" width="5" height="12" fill="#000"/>
<rect x="910" y="417" width="1" height="37" fill="#000"/>
<rect x="908" y="428" width="5" height="22" fill="#000"/>
<rect x="909" y="429" width="3" height="20" fill="#fff"/>
<rect x="918" y="423" width="1" height="13" fill="#000"/>
<rect x="916" y="427" width="5" height="3" fill="#000"/>
<rect x="926" y="401" width="1" height="33" fill="#000"/>
<rect x="924" y="406" width="5" height="26" fill="#000"/>
<rect x="925" y="407" width="3" height="24" fill="#fff"/>
<rect x="934" y="354" width="1" height="54" fill="#000"/>
<rect x="932" y="358" width="5" height="48" fill="#000"/>
<rect x="933" y="359" width="3" height="46" fill="#fff"/>
<rect x="942" y="325" width="1" height="35" fill="#000"/>
<rect x="940" y="331" width="5" height="27" fill="#000"/>
<rect x="941" y="332" width="3" height="25" fill="#fff"/>
<rect x="950" y="315" width="1" height="41" fill="#000"/>
<rect x="948" y="331" width="5" height="9" fill="#000"/>
<rect x="958" y="325" width="1" height="23" fill="#000"/>
<rect x="956" y="328" width="5" height="12" fill="#000"/>
<rect x="957" y="329" width="3" height="10" fill="#fff"/>
<rect x="966" y="318" width="1" height="14" fill="#000"/>
<rect x="964" y="324" width="5" height="4" fill="#000"/>
<rect x="965" y="325" width="3" height="2" fill="#fff"/>
<rect x="974" y="320" width="1" height="34" fill="#000"/>
<rect x="972" y="324" width="5" height="24" fill="#000"/>
<rect x="982" y="331" width="1" height="47" fill="#000"/>
<rect x="980" y="348" width="5" height="30" fill="#000"/>
<rect x="990" y="370" width="1" height="25" fill="#000"/>
<rect x="988" y="375" width="5" height="3" fill="#000"/>
<rect x="989" y="376" width="3" height="1" fill="#fff"/>
<rect x="998" y="367" width="1" height="65" fill="#000"/>
<rect x="996" y="375" width="5" height="57" fill="#000"/>
<rect x="1006" y="428" width="1" height="37" fill="#000"/>
<rect x="1004" y="432" width="5" height="26" fill="#000"/>
<rect x="1014" y="440" width="1" height="32" fill="#000"/>
<rect x="1012" y="457" width="5" height="15" fill="#000"/>
<rect x="1022" y="407" width="1" height="65" fill="#000"/>
<rect x="1020" y="411" width="5" height="61" fill="#000"/>
<rect x="1021" y="412" width="3" height="59" fill="#fff"/>
<rect x="1030" y="396" width="1" height="66" fill="#000"/>
<rect x="1028" y="410" width="5" height="26" fill="#000"/>
<rect x="1038" y="424" width="1" height="42" fill="#000"/>
<rect x="1036" y="426" width="5" height="10" fill="#000"/>
<rect x="1037" y="427" width="3" height="8" fill="#fff"/>
<rect x="1046" y="392" width="1" height="82" fill="#000"/>
<rect x="1044" y="406" width="5" height="20" fill="#000"/>
<rect x="1045" y="407" width="3" height="18" fill="#fff"/>
<rect x="1054" y="396" width="1" height="22" fill="#000"/>
<rect x="1052" y="405" width="5" height="1" fill="#000"/>
<rect x="1062" y="404" width="1" height="20" fill="#000"/>
<rect x="1060" y="406" width="5" height="10" fill="#000"/>
<rect x="1070" y="396" width="1" height="44" fill="#000"/>
<rect x="1068" y="414" width="5" height="20" fill="#000"/>
<rect x="1078" y="388" width="1" height="50" fill="#000"/>
<rect x="1076" y="406" width="5" height="28" fill="#000"/>
<rect x="1077" y="407" width="3" height="26" fill="#fff"/>
<rect x="1086" y="380" width="1" height="35" fill="#000"/>
<rect x="1084" y="402" width="5" height="3" fill="#000"/>
<rect x="1085" y="403" width="3" height="1" fill="#fff"/>
<rect x="1094" y="386" width="1" height="34" fill="#000"/>
<rect x="1092" y="400" width="5" height="3" fill="#000"/>
<rect x="1093" y="401" width="3" height="1" fill="#fff"/>
<rect x="1102" y="398" width="1" height="26" fill="#000"/>
<rect x="1100" y="400" width="5" height="14" fill="#000"/>
<rect x="1110" y="386" width="1" height="8" fill="#000"/>
<rect x="1108" y="386" width="5" height="6" fill="#000"/>
<rect x="1118" y="376" width="1" height="36" fill="#000"/>
<rect x="1116" y="392" width="5" height="6" fill="#000"/>
<rect x="1126" y="358" width="1" height="44" fill="#000"/>
<rect x="1124" y="383" width="5" height="15" fill="#000"/>
<rect x="1125" y="384" width="3" height="13" fill="#fff"/>
<rect x="1134" y="360" width="1" height="28" fill="#000"/>
<rect x="1132" y="370" width="5" height="13" fill="#000"/>
<rect x="1133" y="371" width="3" height="11" fill="#fff"/>
<rect x="1142" y="356" width="1" height="26" fill="#000"/>
<rect x="1140" y="362" width="5" height="8" fill="#000"/>
<rect x="1141" y="363" width="3" height="6" fill="#fff"/>
<rect x="1150" y="351" width="1" height="19" fill="#000"/>
<rect x="1148" y="354" width="5" height="8" fill="#000"/>
<rect x="1149" y="355" width="3" height="6" fill="#fff"/>
<rect x="1158" y="348" width="1" height="18" fill="#000"/>
<rect x="1156" y="354" width="5" height="10" fill="#000"/>
<rect x="1166" y="355" width="1" height="21" fill="#000"/>
<rect x="1164" y="365" width="5" height="1" fill="#000"/>
<rect x="1174" y="360" width="1" height="27" fill="#000"/>
<rect x="1172" y="366" width="5" height="16" fill="#000"/>
<rect x="1182" y="375" width="1" height="63" fill="#000"/>
<rect x="1180" y="383" width="5" height="36" fill="#000"/>
<rect x="1190" y="418" width="1" height="50" fill="#000"/>
<rect x="1188" y="418" width="5" height="21" fill="#000"/>
<rect x="1198" y="426" width="1" height="20" fill="#000"/>
<rect x="1196" y="427" width="5" height="12" fill="#000"/>
<rect x="1197" y="428" width="3" height="10" fill="#fff"/>
<rect x="1206" y="420" width="1" height="12" fill="#000"/>
<rect x="1204" y="427" width="5" height="4" fill="#000"/>
<rect x="1214" y="413" width="1" height="23" fill="#000"/>
<rect x="1212" y="416" width="5" height="16" fill="#000"/>
<rect x="1213" y="417" width="3" height="14" fill="#fff"/>
<rect x="1222" y="400" width="1" height="30" fill="#000"/>
<rect x="1220" y="412" width="5" height="4" fill="#000"/>
<rect x="1221" y="413" width="3" height="2" fill="#fff"/>
<rect x="1230" y="406" width="1" height="46" fill="#000"/>
<rect x="1228" y="412" width="5" height="32" fill="#000"/>
<rect x="1238" y="395" width="1" height="57" fill="#000"/>
<rect x="1236" y="403" width="5" height="41" fill="#000"/>
<rect x="1237" y="404" width="3" height="39" fill="#fff"/>
<rect x="1246" y="376" width="1" height="28" fill="#000"/>
<rect x="1244" y="384" width="5" height="18" fill="#000"/>
<rect x="1245" y="385" width="3" height="16" fill="#fff"/>
<rect x="1254" y="378" width="1" height="14" fill="#000"/>
<rect x="1252" y="384" width="5" height="4" fill="#000"/>
<rect x="1262" y="356" width="1" height="32" fill="#000"/>
<rect x="1260" y="374" width="5" height="14" fill="#000"/>
<rect x="1261" y="375" width="3" height="12" fill="#fff"/>
<rect x="1270" y="373" width="1" height="49" fill="#000"/>
<rect x="1268" y="374" width="5" height="40" fill="#000"/>
<rect x="1278" y="376" width="1" height="52" fill="#000"/>
<rect x="1276" y="388" width="5" height="26" fill="#000"/>
<rect x="1277" y="389" width="3" height="24" fill="#fff"/>
<rect x="1286" y="375" width="1" height="33" fill="#000"/>
<rect x="1284" y="386" width="5" height="3" fill="#000"/>
<rect x="1285" y="387" width="3" height="1" fill="#fff"/>
<rect x="1294" y="378" width="1" height="12" fill="#000"/>
<rect x="1292" y="384" width="5" height="3" fill="#000"/>
<rect x="1293" y="385" width="3" height="1" fill="#fff"/>
<rect x="1302" y="374" width="1" height="14" fill="#000"/>
<rect x="1300" y="374" width="5" height="9" fill="#000"/>
<rect x="1301" y="375" width="3" height="7" fill="#fff"/>
<rect x="1310" y="364" width="1" height="22" fill="#000"/>
<rect x="1308" y="372" width="5" height="4" fill="#000"/>
<rect x="1309" y="373" width="3" height="2" fill="#fff"/>
<rect x="1318" y="362" width="1" height="21" fill="#000"/>
<rect x="1316" y="370" width="5" height="3" fill="#000"/>
<rect x="1317" y="371" width="3" height="1" fill="#fff"/>
<rect x="1326" y="370" width="1" height="26" fill="#000"/>
<rect x="1324" y="371" width="5" height="12" fill="#000"/>
<rect x="1334" y="366" width="1" height="20" fill="#000"/>
<rect x="1332" y="374" width="5" height="10" fill="#000"/>
<rect x="1333" y="375" width="3" height="8" fill="#fff"/>
<rect x="1342" y="370" width="1" height="10" fill="#000"/>
<rect x="1340" y="370" width="5" height="4" fill="#000"/>
<rect x="1341" y="371" width="3" height="2" fill="#fff"/>
<rect x="1350" y="356" width="1" height="8" fill="#000"/>
<rect x="1348" y="362" width="5" height="1" fill="#000"/>
<rect x="1358" y="358" width="1" height="18" fill="#000"/>
<rect x="1356" y="362" width="5" height="4" fill="#000"/>
<rect x="1366" y="354" width="1" height="16" fill="#000"/>
<rect x="1364" y="360" width="5" height="6" fill="#000"/>
<rect x="1365" y="361" width="3" height="4" fill="#fff"/>
<rect x="1374" y="341" width="1" height="23" fill="#000"/>
<rect x="1372" y="346" width="5" height="14" fill="#000"/>
<rect x="1373" y="347" width="3" height="12" fill="#fff"/>
<rect x="1382" y="328" width="1" height="19" fill="#000"/>
<rect x="1380" y="332" width="5" height="15" fill="#000"/>
<rect x="1381" y="333" width="3" height="13" fill="#fff"/>
<rect x="1390" y="330" width="1" height="6" fill="#000"/>
<rect x="1388" y="332" width="5" height="1" fill="#000"/>
<rect x="1398" y="329" width="1" height="9" fill="#000"/>
<rect x="1396" y="332" width="5" height="2" fill="#000"/>
<rect x="1406" y="332" width="1" height="2" fill="#000"/>
<rect x="1404" y="332" width="5" height="2" fill="#000"/>
</g>
<line x1="1186.5" y1="458" x2="1423.21" y2="329.76" stroke="#ff0000" stroke-width="3.2"/>
<polygon points="1432,325 1423.5,334.5 1424.09,329.29 1419.4,326.94" fill="#ff0000"/>
<g font-family="Liberation Sans, sans-serif">
<rect x="735.5" y="555.5" width="61" height="18" fill="#fff" stroke="#ff0000" stroke-width="1" shape-rendering="crispEdges"/>
<text x="737.5" y="570.6" font-size="16.2" fill="#ff0000" text-anchor="start" font-weight="normal" textLength="57" lengthAdjust="spacingAndGlyphs" >155.562</text>
<rect x="797" y="564" width="10" height="1" fill="#ff0000" shape-rendering="crispEdges"/>
<rect x="1119.5" y="459.5" width="61" height="18" fill="#fff" stroke="#ff0000" stroke-width="1" shape-rendering="crispEdges"/>
<text x="1121.5" y="474.6" font-size="16.2" fill="#ff0000" text-anchor="start" font-weight="normal" textLength="57" lengthAdjust="spacingAndGlyphs" >157.980</text>
<rect x="1181" y="468" width="10" height="1" fill="#ff0000" shape-rendering="crispEdges"/>
<rect x="1201.5" y="330.5" width="73" height="24" fill="#fff" stroke="#ff0000" stroke-width="1" shape-rendering="crispEdges"/>
<text x="1203.5" y="350.5" font-size="21.5" fill="#ff0000" text-anchor="start" font-weight="normal" textLength="69" lengthAdjust="spacingAndGlyphs" stroke="#ff0000" stroke-width="0.5">161.153</text>
<rect x="1191" y="342" width="8" height="1" fill="#ff0000" shape-rendering="crispEdges"/>
<rect x="1198.5" y="340.5" width="3" height="4" fill="#fff" stroke="#ff0000" shape-rendering="crispEdges"/>
<rect x="1311.5" y="318.5" width="61" height="18" fill="#fff" stroke="#ff0000" stroke-width="1" shape-rendering="crispEdges"/>
<text x="1313.5" y="333.6" font-size="16.2" fill="#ff0000" text-anchor="start" font-weight="normal" textLength="57" lengthAdjust="spacingAndGlyphs" >161.530</text>
<rect x="1373.5" y="325.5" width="3" height="3" fill="#fff" stroke="#ff0000" shape-rendering="crispEdges"/>
<rect x="1376" y="327" width="7" height="1" fill="#ff0000" shape-rendering="crispEdges"/>
<rect x="1382" y="327" width="1" height="5" fill="#000" shape-rendering="crispEdges"/>
</g>
<g shape-rendering="crispEdges">
<rect x="6" y="591" width="1" height="60" fill="#c0c0c0"/>
<rect x="14" y="591" width="1" height="60" fill="#c0c0c0"/>
<rect x="22" y="592" width="1" height="59" fill="#c0c0c0"/>
<rect x="30" y="593" width="1" height="58" fill="#c0c0c0"/>
<rect x="38" y="597" width="1" height="54" fill="#c0c0c0"/>
<rect x="46" y="601" width="1" height="50" fill="#c0c0c0"/>
<rect x="54" y="602" width="1" height="49" fill="#c0c0c0"/>
<rect x="62" y="603" width="1" height="48" fill="#c0c0c0"/>
<rect x="70" y="604" width="1" height="47" fill="#c0c0c0"/>
<rect x="78" y="607" width="1" height="44" fill="#c0c0c0"/>
<rect x="86" y="606" width="1" height="45" fill="#c0c0c0"/>
<rect x="94" y="609" width="1" height="42" fill="#c0c0c0"/>
<rect x="102" y="612" width="1" height="39" fill="#c0c0c0"/>
<rect x="110" y="614" width="1" height="37" fill="#c0c0c0"/>
<rect x="118" y="626" width="1" height="25" fill="#c0c0c0"/>
<rect x="126" y="635" width="1" height="16" fill="#c0c0c0"/>
<rect x="134" y="643" width="1" height="8" fill="#c0c0c0"/>
<rect x="142" y="650" width="1" height="1" fill="#c0c0c0"/>
<rect x="150" y="650" width="1" height="8" fill="#c0c0c0"/>
<rect x="158" y="650" width="1" height="17" fill="#c0c0c0"/>
<rect x="166" y="650" width="1" height="28" fill="#c0c0c0"/>
<rect x="174" y="650" width="1" height="35" fill="#c0c0c0"/>
<rect x="182" y="650" width="1" height="49" fill="#c0c0c0"/>
<rect x="190" y="650" width="1" height="53" fill="#c0c0c0"/>
<rect x="198" y="650" width="1" height="59" fill="#c0c0c0"/>
<rect x="206" y="650" width="1" height="58" fill="#c0c0c0"/>
<rect x="214" y="650" width="1" height="61" fill="#c0c0c0"/>
<rect x="222" y="650" width="1" height="68" fill="#c0c0c0"/>
<rect x="230" y="650" width="1" height="78" fill="#c0c0c0"/>
<rect x="238" y="650" width="1" height="85" fill="#c0c0c0"/>
<rect x="246" y="650" width="1" height="93" fill="#c0c0c0"/>
<rect x="254" y="650" width="1" height="94" fill="#c0c0c0"/>
<rect x="262" y="650" width="1" height="93" fill="#c0c0c0"/>
<rect x="270" y="650" width="1" height="92" fill="#c0c0c0"/>
<rect x="278" y="650" width="1" height="88" fill="#c0c0c0"/>
<rect x="286" y="650" width="1" height="86" fill="#c0c0c0"/>
<rect x="294" y="650" width="1" height="81" fill="#c0c0c0"/>
<rect x="302" y="650" width="1" height="71" fill="#c0c0c0"/>
<rect x="310" y="650" width="1" height="53" fill="#c0c0c0"/>
<rect x="318" y="650" width="1" height="45" fill="#c0c0c0"/>
<rect x="326" y="650" width="1" height="38" fill="#c0c0c0"/>
<rect x="334" y="650" width="1" height="30" fill="#c0c0c0"/>
<rect x="342" y="650" width="1" height="23" fill="#c0c0c0"/>
<rect x="350" y="650" width="1" height="19" fill="#c0c0c0"/>
<rect x="358" y="650" width="1" height="13" fill="#c0c0c0"/>
<rect x="366" y="650" width="1" height="10" fill="#c0c0c0"/>
<rect x="374" y="650" width="1" height="7" fill="#c0c0c0"/>
<rect x="382" y="650" width="1" height="4" fill="#c0c0c0"/>
<rect x="390" y="650" width="1" height="1" fill="#c0c0c0"/>
<rect x="398" y="648" width="1" height="3" fill="#c0c0c0"/>
<rect x="406" y="645" width="1" height="6" fill="#c0c0c0"/>
<rect x="414" y="645" width="1" height="6" fill="#c0c0c0"/>
<rect x="422" y="646" width="1" height="5" fill="#c0c0c0"/>
<rect x="430" y="649" width="1" height="2" fill="#c0c0c0"/>
<rect x="438" y="650" width="1" height="2" fill="#c0c0c0"/>
<rect x="446" y="650" width="1" height="2" fill="#c0c0c0"/>
<rect x="454" y="650" width="1" height="2" fill="#c0c0c0"/>
<rect x="462" y="650" width="1" height="2" fill="#c0c0c0"/>
<rect x="470" y="650" width="1" height="3" fill="#c0c0c0"/>
<rect x="478" y="650" width="1" height="3" fill="#c0c0c0"/>
<rect x="486" y="650" width="1" height="5" fill="#c0c0c0"/>
<rect x="494" y="650" width="1" height="6" fill="#c0c0c0"/>
<rect x="502" y="650" width="1" height="5" fill="#c0c0c0"/>
<rect x="510" y="650" width="1" height="6" fill="#c0c0c0"/>
<rect x="518" y="650" width="1" height="8" fill="#c0c0c0"/>
<rect x="526" y="650" width="1" height="6" fill="#c0c0c0"/>
<rect x="534" y="650" width="1" height="5" fill="#c0c0c0"/>
<rect x="542" y="650" width="1" height="6" fill="#c0c0c0"/>
<rect x="550" y="650" width="1" height="6" fill="#c0c0c0"/>
<rect x="558" y="650" width="1" height="13" fill="#c0c0c0"/>
<rect x="566" y="650" width="1" height="21" fill="#c0c0c0"/>
<rect x="574" y="650" width="1" height="27" fill="#c0c0c0"/>
<rect x="582" y="650" width="1" height="31" fill="#c0c0c0"/>
<rect x="590" y="650" width="1" height="29" fill="#c0c0c0"/>
<rect x="598" y="650" width="1" height="33" fill="#c0c0c0"/>
<rect x="606" y="650" width="1" height="35" fill="#c0c0c0"/>
<rect x="614" y="650" width="1" height="35" fill="#c0c0c0"/>
<rect x="622" y="650" width="1" height="35" fill="#c0c0c0"/>
<rect x="630" y="650" width="1" height="33" fill="#c0c0c0"/>
<rect x="638" y="650" width="1" height="33" fill="#c0c0c0"/>
<rect x="646" y="650" width="1" height="31" fill="#c0c0c0"/>
<rect x="654" y="650" width="1" height="24" fill="#c0c0c0"/>
<rect x="662" y="650" width="1" height="25" fill="#c0c0c0"/>
<rect x="670" y="650" width="1" height="27" fill="#c0c0c0"/>
<rect x="678" y="650" width="1" height="28" fill="#c0c0c0"/>
<rect x="686" y="650" width="1" height="26" fill="#c0c0c0"/>
<rect x="694" y="650" width="1" height="27" fill="#c0c0c0"/>
<rect x="702" y="650" width="1" height="28" fill="#c0c0c0"/>
<rect x="710" y="650" width="1" height="29" fill="#c0c0c0"/>
<rect x="718" y="650" width="1" height="28" fill="#c0c0c0"/>
<rect x="726" y="650" width="1" height="27" fill="#c0c0c0"/>
<rect x="734" y="650" width="1" height="26" fill="#c0c0c0"/>
<rect x="742" y="650" width="1" height="26" fill="#c0c0c0"/>
<rect x="750" y="650" width="1" height="25" fill="#c0c0c0"/>
<rect x="758" y="650" width="1" height="25" fill="#c0c0c0"/>
<rect x="766" y="650" width="1" height="31" fill="#c0c0c0"/>
<rect x="774" y="650" width="1" height="37" fill="#c0c0c0"/>
<rect x="782" y="650" width="1" height="41" fill="#c0c0c0"/>
<rect x="790" y="650" width="1" height="53" fill="#c0c0c0"/>
<rect x="798" y="650" width="1" height="63" fill="#c0c0c0"/>
<rect x="806" y="650" width="1" height="73" fill="#c0c0c0"/>
<rect x="814" y="650" width="1" height="79" fill="#c0c0c0"/>
<rect x="822" y="650" width="1" height="80" fill="#c0c0c0"/>
<rect x="830" y="650" width="1" height="77" fill="#c0c0c0"/>
<rect x="838" y="650" width="1" height="74" fill="#c0c0c0"/>
<rect x="846" y="650" width="1" height="72" fill="#c0c0c0"/>
<rect x="854" y="650" width="1" height="64" fill="#c0c0c0"/>
<rect x="862" y="650" width="1" height="57" fill="#c0c0c0"/>
<rect x="870" y="650" width="1" height="50" fill="#c0c0c0"/>
<rect x="878" y="650" width="1" height="49" fill="#c0c0c0"/>
<rect x="886" y="650" width="1" height="44" fill="#c0c0c0"/>
<rect x="894" y="650" width="1" height="37" fill="#c0c0c0"/>
<rect x="902" y="650" width="1" height="33" fill="#c0c0c0"/>
<rect x="910" y="650" width="1" height="27" fill="#c0c0c0"/>
<rect x="918" y="650" width="1" height="21" fill="#c0c0c0"/>
<rect x="926" y="650" width="1" height="13" fill="#c0c0c0"/>
<rect x="934" y="650" width="1" height="1" fill="#c0c0c0"/>
<rect x="942" y="638" width="1" height="13" fill="#c0c0c0"/>
<rect x="950" y="629" width="1" height="22" fill="#c0c0c0"/>
<rect x="958" y="621" width="1" height="30" fill="#c0c0c0"/>
<rect x="966" y="614" width="1" height="37" fill="#c0c0c0"/>
<rect x="974" y="612" width="1" height="39" fill="#c0c0c0"/>
<rect x="982" y="615" width="1" height="36" fill="#c0c0c0"/>
<rect x="990" y="617" width="1" height="34" fill="#c0c0c0"/>
<rect x="998" y="627" width="1" height="24" fill="#c0c0c0"/>
<rect x="1006" y="638" width="1" height="13" fill="#c0c0c0"/>
<rect x="1014" y="649" width="1" height="2" fill="#c0c0c0"/>
<rect x="1022" y="650" width="1" height="1" fill="#c0c0c0"/>
<rect x="1030" y="650" width="1" height="3" fill="#c0c0c0"/>
<rect x="1038" y="650" width="1" height="5" fill="#c0c0c0"/>
<rect x="1046" y="650" width="1" height="3" fill="#c0c0c0"/>
<rect x="1054" y="650" width="1" height="1" fill="#c0c0c0"/>
<rect x="1062" y="650" width="1" height="3" fill="#c0c0c0"/>
<rect x="1070" y="650" width="1" height="4" fill="#c0c0c0"/>
<rect x="1078" y="650" width="1" height="3" fill="#c0c0c0"/>
<rect x="1086" y="650" width="1" height="1" fill="#c0c0c0"/>
<rect x="1094" y="650" width="1" height="1" fill="#c0c0c0"/>
<rect x="1102" y="650" width="1" height="1" fill="#c0c0c0"/>
<rect x="1110" y="648" width="1" height="3" fill="#c0c0c0"/>
<rect x="1118" y="647" width="1" height="4" fill="#c0c0c0"/>
<rect x="1126" y="644" width="1" height="7" fill="#c0c0c0"/>
<rect x="1134" y="640" width="1" height="11" fill="#c0c0c0"/>
<rect x="1142" y="636" width="1" height="15" fill="#c0c0c0"/>
<rect x="1150" y="632" width="1" height="19" fill="#c0c0c0"/>
<rect x="1158" y="631" width="1" height="20" fill="#c0c0c0"/>
<rect x="1166" y="630" width="1" height="21" fill="#c0c0c0"/>
<rect x="1174" y="632" width="1" height="19" fill="#c0c0c0"/>
<rect x="1182" y="638" width="1" height="13" fill="#c0c0c0"/>
<rect x="1190" y="646" width="1" height="5" fill="#c0c0c0"/>
<rect x="1198" y="650" width="1" height="1" fill="#c0c0c0"/>
<rect x="1206" y="650" width="1" height="5" fill="#c0c0c0"/>
<rect x="1214" y="650" width="1" height="5" fill="#c0c0c0"/>
<rect x="1222" y="650" width="1" height="5" fill="#c0c0c0"/>
<rect x="1230" y="650" width="1" height="11" fill="#c0c0c0"/>
<rect x="1238" y="650" width="1" height="9" fill="#c0c0c0"/>
<rect x="1246" y="650" width="1" height="5" fill="#c0c0c0"/>
<rect x="1254" y="650" width="1" height="2" fill="#c0c0c0"/>
<rect x="1262" y="648" width="1" height="3" fill="#c0c0c0"/>
<rect x="1270" y="650" width="1" height="1" fill="#c0c0c0"/>
<rect x="1278" y="648" width="1" height="3" fill="#c0c0c0"/>
<rect x="1286" y="646" width="1" height="5" fill="#c0c0c0"/>
<rect x="1294" y="645" width="1" height="6" fill="#c0c0c0"/>
<rect x="1302" y="644" width="1" height="7" fill="#c0c0c0"/>
<rect x="1310" y="642" width="1" height="9" fill="#c0c0c0"/>
<rect x="1318" y="641" width="1" height="10" fill="#c0c0c0"/>
<rect x="1326" y="641" width="1" height="10" fill="#c0c0c0"/>
<rect x="1334" y="640" width="1" height="11" fill="#c0c0c0"/>
<rect x="1342" y="640" width="1" height="11" fill="#c0c0c0"/>
<rect x="1350" y="638" width="1" height="13" fill="#c0c0c0"/>
<rect x="1358" y="637" width="1" height="14" fill="#c0c0c0"/>
<rect x="1366" y="636" width="1" height="15" fill="#c0c0c0"/>
<rect x="1374" y="632" width="1" height="19" fill="#c0c0c0"/>
<rect x="1382" y="628" width="1" height="23" fill="#c0c0c0"/>
<rect x="1390" y="625" width="1" height="26" fill="#c0c0c0"/>
<rect x="1398" y="624" width="1" height="27" fill="#c0c0c0"/>
<rect x="1406" y="623" width="1" height="28" fill="#c0c0c0"/>
</g>
<polyline points="0,609.5 0,609.56 0.28,609.53 2.5,608.75 8.06,606.68 15.56,603.85 22.5,601.25 27.69,599.12 32.31,597.21 37.5,595.75 43.8,594.82 50.65,594.34 57.5,594.25 64.07,594.5 70.65,595.14 77.5,596.25 85,598.05 92.78,600.31 100,602.5 106.2,604.29 111.85,605.99 117.5,608 123.43,610.44 129.35,613.18 135,616.25 140.19,619.69 145.09,623.45 150,627.5 155,631.85 160,636.48 165,641.25 170,646.11 175,651.11 180,656.25 185,661.67 190,667.22 195,672.5 200,677.31 205,681.85 210,686.25 215,690.51 220,694.63 225,698.75 230.09,703.06 235.19,707.36 240,711.25 244.35,714.49 248.43,717.31 252.5,720 256.57,722.64 260.65,725.14 265,727.5 269.81,729.79 274.91,731.94 280,733.75 285,735.3 290,736.51 295,737 300.09,736.65 305.19,735.57 310,733.75 314.35,730.92 318.43,727.33 322.5,723.75 326.57,720.56 330.65,717.36 335,713.75 339.81,709.49 344.91,704.81 350,700 355,695 360,689.86 365,685 370,680.56 375,676.39 380,672.5 385,668.86 390,665.5 395,662.5 400.06,659.95 405.11,657.77 410,655.75 414.78,653.71 419.39,651.84 423.5,650.5 426.7,650.01 429.41,650.05 432.5,650 435.94,649.61 439.78,649.14 445,648.75 452.78,648.44 461.94,648.22 470,648.25 475.65,648.64 480.19,649.28 485,650 490.46,650.78 496.2,651.64 502.5,652.5 509.72,653.41 517.5,654.31 525,655 531.85,655.24 538.43,655.26 545,655.5 551.85,656.09 558.7,656.91 565,658 570.37,659.47 575.19,661.22 580,663 585,664.75 590,666.53 595,668.25 600.09,669.86 605.19,671.42 610,673 614.26,674.69 618.24,676.4 622.5,678 627.5,679.56 632.78,681.02 637.5,682 640.93,682.27 643.8,682.06 647.5,681.75 652.87,681.4 659.07,680.94 665,680.5 670.19,680.17 675.09,679.86 680,679.5 685,679.03 690,678.5 695,678 699.72,677.51 704.44,677.05 710,676.75 717.31,676.76 725.46,676.94 732.5,677 737.31,676.8 741.02,676.48 745,676.25 750,676.13 755.28,676.09 760,676.25 763.61,676.71 766.67,677.37 770,678 773.98,678.37 778.24,678.71 782.5,679.5 786.67,680.96 790.83,682.87 795,685 799.17,687.26 803.33,689.74 807.5,692.5 811.67,695.69 815.83,699.17 820,702.5 824.22,705.63 828.44,708.62 832.5,711.25 836.54,713.47 840.41,715.33 843.5,716.75 845.04,717.51 845.8,717.82 847.5,718.25 851.04,719.18 855.52,720.21 860,720.75 864.17,720.53 868.33,719.81 872.5,718.75 876.76,717.35 881.02,715.62 885,713.75 888.24,711.94 891.2,710 895,707.5 900.37,704.1 906.57,700.15 912.5,696.25 917.78,692.62 922.78,689.05 927.5,685.5 931.85,682.06 935.93,678.64 940,675 944.17,670.98 948.33,666.74 952.5,662.5 956.67,658.31 960.83,654.11 965,650 969.17,645.94 973.33,641.97 977.5,638.25 981.76,634.75 986.02,631.5 990,628.75 993.52,626.58 996.76,624.92 1000,623.75 1003.33,623.17 1006.67,623.08 1010,623.25 1013.33,623.55 1016.67,624.09 1020,625 1023.15,626.31 1026.3,627.99 1030,630 1034.72,632.5 1040,635.33 1045,638 1049.35,640.29 1053.43,642.41 1057.5,644.5 1061.57,646.79 1065.65,649.05 1070,650.75 1074.63,651.58 1079.54,651.86 1085,652 1091.48,652.17 1098.52,652.19 1105,652 1110.37,651.48 1115.19,650.74 1120,650 1125,649.42 1130,648.83 1135,648 1140,646.75 1145,645.25 1150,643.75 1155.09,642.28 1160.19,640.81 1165,639.5 1169.07,638.39 1172.87,637.44 1177.5,636.75 1183.89,636.31 1191.11,636.11 1197.5,636.25 1202.13,636.75 1205.93,637.58 1210,638.75 1214.81,640.35 1219.91,642.29 1225,644.25 1230.09,646.25 1235.19,648.28 1240,650 1244.44,651.27 1248.61,652.23 1252.5,653 1255.74,653.64 1258.7,654.08 1262.5,654.25 1267.96,654.06 1274.26,653.6 1280,653 1284.54,652.3 1288.52,651.45 1292.5,650.5 1296.57,649.37 1300.65,648.13 1305,647 1309.81,646.09 1314.91,645.3 1320,644.5 1325,643.65 1330,642.8 1335,642 1340,641.33 1345,640.72 1350,640 1355,639.06 1360,638 1365,637 1370,636.16 1375,635.37 1380,634.5 1385.15,633.42 1390.3,632.25 1395,631.25 1399.37,630.49 1403.3,629.9 1406,629.5" fill="none" stroke="#ff0000" stroke-width="1" stroke-dasharray="3,3"/>
<line x1="1279" y1="646.5" x2="1429.56" y2="627.98" stroke="#ff0000" stroke-width="3"/>
<polygon points="1437.5,627 1428.12,632.69 1430.55,627.85 1427.03,623.75" fill="#ff0000"/>
<line x1="3" y1="790.5" x2="1649" y2="790.5" stroke="#c0c0c0" stroke-width="1" stroke-dasharray="3,3" shape-rendering="crispEdges"/>
<line x1="3" y1="841.5" x2="1649" y2="841.5" stroke="#c0c0c0" stroke-width="1" stroke-dasharray="3,3" shape-rendering="crispEdges"/>
<line x1="3" y1="902.5" x2="1649" y2="902.5" stroke="#c0c0c0" stroke-width="1" stroke-dasharray="3,3" shape-rendering="crispEdges"/>
<polyline points="0,785.75 6,781.25 14,809.25 22,811.25 30,820 38,823.25 46,823.25 54,816.25 62,814.25 70,814.25 78,822.5 86,812.5 94,827.5 102,825 110,826.25 118,860.75 126,857.5 134,858.25 142,865.5 150,863.25 158,870 166,879.25 174,880.5 182,889.25 190,871.25 198,874.25 206,862.5 214,870.75 222,876.75 230,883.25 238,884.5 246,886.5 254,877.5 262,873.25 270,872.5 278,869.5 286,870.25 294,868.25 302,847.5 310,828.25 318,843.25 326,841.25 334,837.5 342,839.25 350,838.25 358,836.25 366,837.5 374,838.25 382,839.25 390,835 398,831.5 406,831.5 414,840 422,842.5 430,849.25 438,849.25 446,845 454,837.5 462,845 470,847 478,849.25 486,848.25 494,852 502,844.5 510,849.25 518,853.75 526,840.5 534,837.5 542,850 550,845.75 558,868 566,872 574,872 582,863.75 590,855.5 598,865.5 606,862.5 614,860.75 622,859.25 630,856.25 638,859.25 646,853 654,837.5 662,855.75 670,859.25 678,854.5 686,849.5 694,857 702,858.25 710,860 718,854.25 726,857 734,849.5 742,855 750,856.25 758,857.5 766,873.75 774,877 782,878.5 790,891.25 798,894.25 806,897.5 814,888.75 822,880 830,865.5 838,868 846,869.5 854,853 862,851.25 870,846.75 878,858.25 886,852 894,842.5 902,846.25 910,837.5 918,839.25 926,831.25 934,817.5 942,812.5 950,815.5 958,812.5 966,811.25 974,822.5 982,834.25 990,833.25 998,852 1006,858.75 1014,862.5 1022,842.5 1030,849.25 1038,846.25 1046,840.75 1054,840 1062,843 1070,849.25 1078,839.5 1086,838.25 1094,838.25 1102,842 1110,835.5 1118,837.5 1126,832.5 1134,828.25 1142,825 1150,823.25 1158,827 1166,829.5 1174,837.5 1182,852 1190,858.25 1198,853.25 1206,854.5 1214,847.5 1222,845 1230,858.25 1238,840 1246,834.5 1254,835.5 1262,830.5 1270,846.75 1278,838.75 1286,835 1294,834 1302,833 1310,832 1318,831.25 1326,837.5 1334,833.75 1342,831.25 1350,828.25 1358,830.5 1366,827.5 1374,820.75 1382,815.5 1390,816.75 1398,816.25 1406,816.25" fill="none" stroke="#1e90ff" stroke-width="1" />
<line x1="1265" y1="838.5" x2="1403.08" y2="818.64" stroke="#ff0000" stroke-width="3"/>
<polygon points="1411,817.5 1401.74,823.38 1404.07,818.5 1400.46,814.47" fill="#ff0000"/>
<g shape-rendering="crispEdges" fill="#000">
<rect x="0" y="27" width="1650" height="1"/>
<rect x="1649" y="27" width="1" height="902"/>
<rect x="0" y="576" width="1650" height="1"/>
<rect x="0" y="577" width="1696" height="1" fill="#fff"/>
<rect x="0" y="578" width="1650" height="1"/>
<rect x="0" y="752" width="1650" height="1"/>
<rect x="0" y="753" width="1696" height="1" fill="#fff"/>
<rect x="0" y="754" width="1650" height="1"/>
<rect x="0" y="928" width="1651" height="1"/>
<rect x="1650" y="45" width="3" height="1"/>
<rect x="1650" y="78" width="3" height="1"/>
<rect x="1650" y="111" width="3" height="1"/>
<rect x="1650" y="144" width="3" height="1"/>
<rect x="1650" y="177" width="3" height="1"/>
<rect x="1650" y="210" width="3" height="1"/>
<rect x="1650" y="243" width="3" height="1"/>
<rect x="1650" y="276" width="3" height="1"/>
<rect x="1650" y="309" width="3" height="1"/>
<rect x="1650" y="342" width="3" height="1"/>
<rect x="1650" y="375" width="3" height="1"/>
<rect x="1650" y="408" width="3" height="1"/>
<rect x="1650" y="441" width="3" height="1"/>
<rect x="1650" y="474" width="3" height="1"/>
<rect x="1650" y="507" width="3" height="1"/>
<rect x="1650" y="540" width="3" height="1"/>
<rect x="1650" y="573" width="3" height="1"/>
<rect x="1650" y="650" width="2" height="1"/>
<rect x="1650" y="790" width="2" height="1"/>
<rect x="1650" y="841" width="2" height="1"/>
<rect x="1650" y="902" width="2" height="1"/>
<rect x="54" y="929" width="1" height="4"/>
<rect x="118" y="929" width="1" height="4"/>
<rect x="182" y="929" width="1" height="4"/>
<rect x="246" y="929" width="1" height="4"/>
<rect x="310" y="929" width="1" height="4"/>
<rect x="374" y="929" width="1" height="4"/>
<rect x="438" y="929" width="1" height="4"/>
<rect x="502" y="929" width="1" height="4"/>
<rect x="566" y="929" width="1" height="4"/>
<rect x="630" y="929" width="1" height="4"/>
<rect x="694" y="929" width="1" height="4"/>
<rect x="758" y="929" width="1" height="4"/>
<rect x="822" y="929" width="1" height="4"/>
<rect x="886" y="929" width="1" height="4"/>
<rect x="950" y="929" width="1" height="4"/>
<rect x="1014" y="929" width="1" height="4"/>
<rect x="1078" y="929" width="1" height="4"/>
<rect x="1142" y="929" width="1" height="4"/>
<rect x="1206" y="929" width="1" height="4"/>
<rect x="1270" y="929" width="1" height="4"/>
<rect x="1334" y="929" width="1" height="4"/>
<rect x="1398" y="929" width="1" height="4"/>
</g>
<g font-family="Liberation Sans, sans-serif">
<text x="1655.5" y="48.7" font-size="9.3" fill="#000" text-anchor="start" font-weight="normal" textLength="32.5" lengthAdjust="spacingAndGlyphs" >168.635</text>
<text x="1655.5" y="81.7" font-size="9.3" fill="#000" text-anchor="start" font-weight="normal" textLength="32.5" lengthAdjust="spacingAndGlyphs" >167.810</text>
<text x="1655.5" y="114.7" font-size="9.3" fill="#000" text-anchor="start" font-weight="normal" textLength="32.5" lengthAdjust="spacingAndGlyphs" >166.985</text>
<text x="1655.5" y="147.7" font-size="9.3" fill="#000" text-anchor="start" font-weight="normal" textLength="32.5" lengthAdjust="spacingAndGlyphs" >166.135</text>
<text x="1655.5" y="180.7" font-size="9.3" fill="#000" text-anchor="start" font-weight="normal" textLength="32.5" lengthAdjust="spacingAndGlyphs" >165.310</text>
<text x="1655.5" y="213.7" font-size="9.3" fill="#000" text-anchor="start" font-weight="normal" textLength="32.5" lengthAdjust="spacingAndGlyphs" >164.485</text>
<text x="1655.5" y="246.7" font-size="9.3" fill="#000" text-anchor="start" font-weight="normal" textLength="32.5" lengthAdjust="spacingAndGlyphs" >163.660</text>
<text x="1655.5" y="279.7" font-size="9.3" fill="#000" text-anchor="start" font-weight="normal" textLength="32.5" lengthAdjust="spacingAndGlyphs" >162.810</text>
<text x="1655.5" y="312.7" font-size="9.3" fill="#000" text-anchor="start" font-weight="normal" textLength="32.5" lengthAdjust="spacingAndGlyphs" >161.985</text>
<text x="1655.5" y="345.7" font-size="9.3" fill="#000" text-anchor="start" font-weight="normal" textLength="32.5" lengthAdjust="spacingAndGlyphs" >161.160</text>
<text x="1655.5" y="378.7" font-size="9.3" fill="#000" text-anchor="start" font-weight="normal" textLength="32.5" lengthAdjust="spacingAndGlyphs" >160.310</text>
<text x="1655.5" y="411.7" font-size="9.3" fill="#000" text-anchor="start" font-weight="normal" textLength="32.5" lengthAdjust="spacingAndGlyphs" >159.485</text>
<text x="1655.5" y="444.7" font-size="9.3" fill="#000" text-anchor="start" font-weight="normal" textLength="32.5" lengthAdjust="spacingAndGlyphs" >158.660</text>
<text x="1655.5" y="477.7" font-size="9.3" fill="#000" text-anchor="start" font-weight="normal" textLength="32.5" lengthAdjust="spacingAndGlyphs" >157.810</text>
<text x="1655.5" y="510.7" font-size="9.3" fill="#000" text-anchor="start" font-weight="normal" textLength="32.5" lengthAdjust="spacingAndGlyphs" >156.985</text>
<text x="1655.5" y="543.7" font-size="9.3" fill="#000" text-anchor="start" font-weight="normal" textLength="32.5" lengthAdjust="spacingAndGlyphs" >156.160</text>
<text x="1655.5" y="576.7" font-size="9.3" fill="#000" text-anchor="start" font-weight="normal" textLength="32.5" lengthAdjust="spacingAndGlyphs" >155.335</text>
<text x="1653" y="588.2" font-size="9.3" fill="#000" text-anchor="start" font-weight="normal" textLength="27.8" lengthAdjust="spacingAndGlyphs" >1.0643</text>
<text x="1653" y="653.7" font-size="9.3" fill="#000" text-anchor="start" font-weight="normal" textLength="17.6" lengthAdjust="spacingAndGlyphs" >0.00</text>
<text x="1653" y="748.7" font-size="9.3" fill="#000" text-anchor="start" font-weight="normal" textLength="30.7" lengthAdjust="spacingAndGlyphs" >-1.5495</text>
<text x="1653" y="764.7" font-size="9.3" fill="#000" text-anchor="start" font-weight="normal" textLength="14.5" lengthAdjust="spacingAndGlyphs" >100</text>
<text x="1653" y="793.7" font-size="9.3" fill="#000" text-anchor="start" font-weight="normal" textLength="9.7" lengthAdjust="spacingAndGlyphs" >80</text>
<text x="1653" y="844.7" font-size="9.3" fill="#000" text-anchor="start" font-weight="normal" textLength="9.7" lengthAdjust="spacingAndGlyphs" >50</text>
<text x="1653" y="905.7" font-size="9.3" fill="#000" text-anchor="start" font-weight="normal" textLength="9.7" lengthAdjust="spacingAndGlyphs" >15</text>
<text x="1653" y="924.7" font-size="9.3" fill="#000" text-anchor="start" font-weight="normal" >0</text>
<rect x="1651" y="267" width="41" height="11" fill="#ff0000" shape-rendering="crispEdges"/>
<text x="1655.5" y="276.4" font-size="9.3" fill="#fff" text-anchor="start" font-weight="normal" textLength="32.5" lengthAdjust="spacingAndGlyphs" >162.890</text>
<rect x="1644.5" y="271.5" width="4" height="4" fill="#fff" stroke="#ff0000" shape-rendering="crispEdges"/>
<rect x="1651" y="298" width="41" height="11" fill="#ff0000" shape-rendering="crispEdges"/>
<text x="1655.5" y="307.4" font-size="9.3" fill="#fff" text-anchor="start" font-weight="normal" textLength="32.5" lengthAdjust="spacingAndGlyphs" >162.110</text>
<rect x="1644.5" y="302.5" width="4" height="4" fill="#fff" stroke="#ff0000" shape-rendering="crispEdges"/>
<rect x="1651" y="328" width="41" height="11" fill="#000000" shape-rendering="crispEdges"/>
<text x="1655.5" y="337.4" font-size="9.3" fill="#fff" text-anchor="start" font-weight="normal" textLength="32.5" lengthAdjust="spacingAndGlyphs" >161.387</text>
<rect x="1651" y="336" width="41" height="11" fill="#32cd32" shape-rendering="crispEdges"/>
<text x="1655.5" y="345.4" font-size="9.3" fill="#fff" text-anchor="start" font-weight="normal" textLength="32.5" lengthAdjust="spacingAndGlyphs" >161.153</text>
<rect x="1644.5" y="340.5" width="4" height="4" fill="#fff" stroke="#32cd32" shape-rendering="crispEdges"/>
<rect x="1651" y="363" width="41" height="11" fill="#0000ff" shape-rendering="crispEdges"/>
<text x="1655.5" y="372.4" font-size="9.3" fill="#fff" text-anchor="start" font-weight="normal" textLength="32.5" lengthAdjust="spacingAndGlyphs" >160.473</text>
<rect x="1644.5" y="367.5" width="4" height="4" fill="#fff" stroke="#0000ff" shape-rendering="crispEdges"/>
<rect x="1651" y="394" width="41" height="11" fill="#0000ff" shape-rendering="crispEdges"/>
<text x="1655.5" y="403.4" font-size="9.3" fill="#fff" text-anchor="start" font-weight="normal" textLength="32.5" lengthAdjust="spacingAndGlyphs" >159.692</text>
<rect x="1644.5" y="398.5" width="4" height="4" fill="#fff" stroke="#0000ff" shape-rendering="crispEdges"/>
<text x="-6" y="941" font-size="9.5" fill="#000" text-anchor="start" font-weight="normal" >9 Apr 2022</text>
<text x="53" y="941" font-size="9.5" fill="#000" text-anchor="start" font-weight="normal" >20 Apr 20:00</text>
<text x="117" y="941" font-size="9.5" fill="#000" text-anchor="start" font-weight="normal" >22 Apr 04:00</text>
<text x="181" y="941" font-size="9.5" fill="#000" text-anchor="start" font-weight="normal" >25 Apr 12:00</text>
<text x="245" y="941" font-size="9.5" fill="#000" text-anchor="start" font-weight="normal" >26 Apr 20:00</text>
<text x="309" y="941" font-size="9.5" fill="#000" text-anchor="start" font-weight="normal" >28 Apr 04:00</text>
<text x="373" y="941" font-size="9.5" fill="#000" text-anchor="start" font-weight="normal" >29 Apr 12:00</text>
<text x="437" y="941" font-size="9.5" fill="#000" text-anchor="start" font-weight="normal" >2 May 20:00</text>
<text x="501" y="941" font-size="9.5" fill="#000" text-anchor="start" font-weight="normal" >4 May 04:00</text>
<text x="565" y="941" font-size="9.5" fill="#000" text-anchor="start" font-weight="normal" >5 May 12:00</text>
<text x="629" y="941" font-size="9.5" fill="#000" text-anchor="start" font-weight="normal" >8 May 23:00</text>
<text x="693" y="941" font-size="9.5" fill="#000" text-anchor="start" font-weight="normal" >10 May 04:00</text>
<text x="757" y="941" font-size="9.5" fill="#000" text-anchor="start" font-weight="normal" >11 May 12:00</text>
<text x="821" y="941" font-size="9.5" fill="#000" text-anchor="start" font-weight="normal" >12 May 20:00</text>
<text x="885" y="941" font-size="9.5" fill="#000" text-anchor="start" font-weight="normal" >16 May 04:00</text>
<text x="949" y="941" font-size="9.5" fill="#000" text-anchor="start" font-weight="normal" >17 May 12:00</text>
<text x="1013" y="941" font-size="9.5" fill="#000" text-anchor="start" font-weight="normal" >18 May 20:00</text>
<text x="1077" y="941" font-size="9.5" fill="#000" text-anchor="start" font-weight="normal" >20 May 04:00</text>
<text x="1141" y="941" font-size="9.5" fill="#000" text-anchor="start" font-weight="normal" >23 May 12:00</text>
<text x="1205" y="941" font-size="9.5" fill="#000" text-anchor="start" font-weight="normal" >24 May 20:00</text>
<text x="1269" y="941" font-size="9.5" fill="#000" text-anchor="start" font-weight="normal" >26 May 04:00</text>
<text x="1333" y="941" font-size="9.5" fill="#000" text-anchor="start" font-weight="normal" >27 May 12:00</text>
<text x="1397" y="941" font-size="9.5" fill="#000" text-anchor="start" font-weight="normal" >30 May 20:00</text>
<text x="5" y="39" font-size="9.3" fill="#000" text-anchor="start" font-weight="normal" textLength="199" lengthAdjust="spacingAndGlyphs" xml:space="preserve">GBPJPY-,H4&#160;&#160;161.405 161.415 161.370 161.387</text>
<text x="-7.4" y="590.7" font-size="9.5" fill="#000" text-anchor="start" font-weight="normal" >MACD(12,26,9) 0.4220 0.3047</text>
<text x="-6.7" y="766.7" font-size="9.4" fill="#000" text-anchor="start" font-weight="normal" >RSI(14) 64.6453</text>
<rect x="0" y="584" width="1" height="7" fill="#333" shape-rendering="crispEdges"/>
</g>
<polygon points="1410,28 1420,28 1415,33" fill="#c0c0c0"/>
<g font-family="Liberation Sans, sans-serif">
<rect x="0" y="47" width="212" height="57" fill="#fff"/>
<rect x="0" y="47" width="45" height="24" fill="url(#gb)"/>
<rect x="160" y="47" width="52" height="24" fill="url(#gb)"/>
<rect x="0" y="71" width="102" height="33" fill="url(#gp)"/>
<rect x="104" y="71" width="108" height="33" fill="url(#gp)"/>
<rect x="0" y="70.5" width="41" height="1" fill="#7a7af0" opacity="0.8"/>
<rect x="164" y="70.5" width="44" height="1" fill="#7a7af0" opacity="0.8"/>
<rect x="47.5" y="47.5" width="112" height="21" fill="#fff" stroke="#b8b8b8"/>
<rect x="48.5" y="48.5" width="19.5" height="19" fill="url(#gg)" stroke="#d8d8d8" stroke-width="0.5"/>
<rect x="137" y="48.5" width="20" height="19" fill="url(#gg)" stroke="#d8d8d8" stroke-width="0.5"/>
<rect x="68.3" y="48" width="0.8" height="20" fill="#c8c8c8"/><rect x="136.2" y="48" width="0.8" height="20" fill="#c8c8c8"/>
<polygon points="55,56 60,56 57.5,59" fill="#5a6ad0"/>
<polygon points="144,59 149,59 146.500,56" fill="#5a6ad0"/>
<text x="133" y="62" font-size="11.5" fill="#000" text-anchor="end" font-weight="normal" >1.00</text>
<text x="5.5" y="63" font-size="11.3" fill="#fff" text-anchor="start" font-weight="normal" textLength="25.5" lengthAdjust="spacingAndGlyphs" >SELL</text>
<text x="173.5" y="63" font-size="11.3" fill="#fff" text-anchor="start" font-weight="normal" textLength="23.5" lengthAdjust="spacingAndGlyphs" >BUY</text>
<text x="17" y="98.8" font-size="10.5" fill="#fff" text-anchor="start" font-weight="bold" textLength="20" lengthAdjust="spacingAndGlyphs" >161</text>
<text x="41.5" y="98.8" font-size="32.5" fill="#fff" text-anchor="start" font-weight="normal" textLength="34" lengthAdjust="spacingAndGlyphs" >38</text>
<text x="80.5" y="82.6" font-size="11" fill="#fff" text-anchor="start" font-weight="bold" >7</text>
<text x="127" y="98.8" font-size="10.5" fill="#fff" text-anchor="start" font-weight="bold" textLength="20" lengthAdjust="spacingAndGlyphs" >161</text>
<text x="150.5" y="98.8" font-size="32.5" fill="#fff" text-anchor="start" font-weight="normal" textLength="35.5" lengthAdjust="spacingAndGlyphs" >44</text>
<text x="191" y="82.6" font-size="11" fill="#fff" text-anchor="start" font-weight="bold" >8</text>
</g>
</svg>
<div id="rs"></div>
</body></html>
